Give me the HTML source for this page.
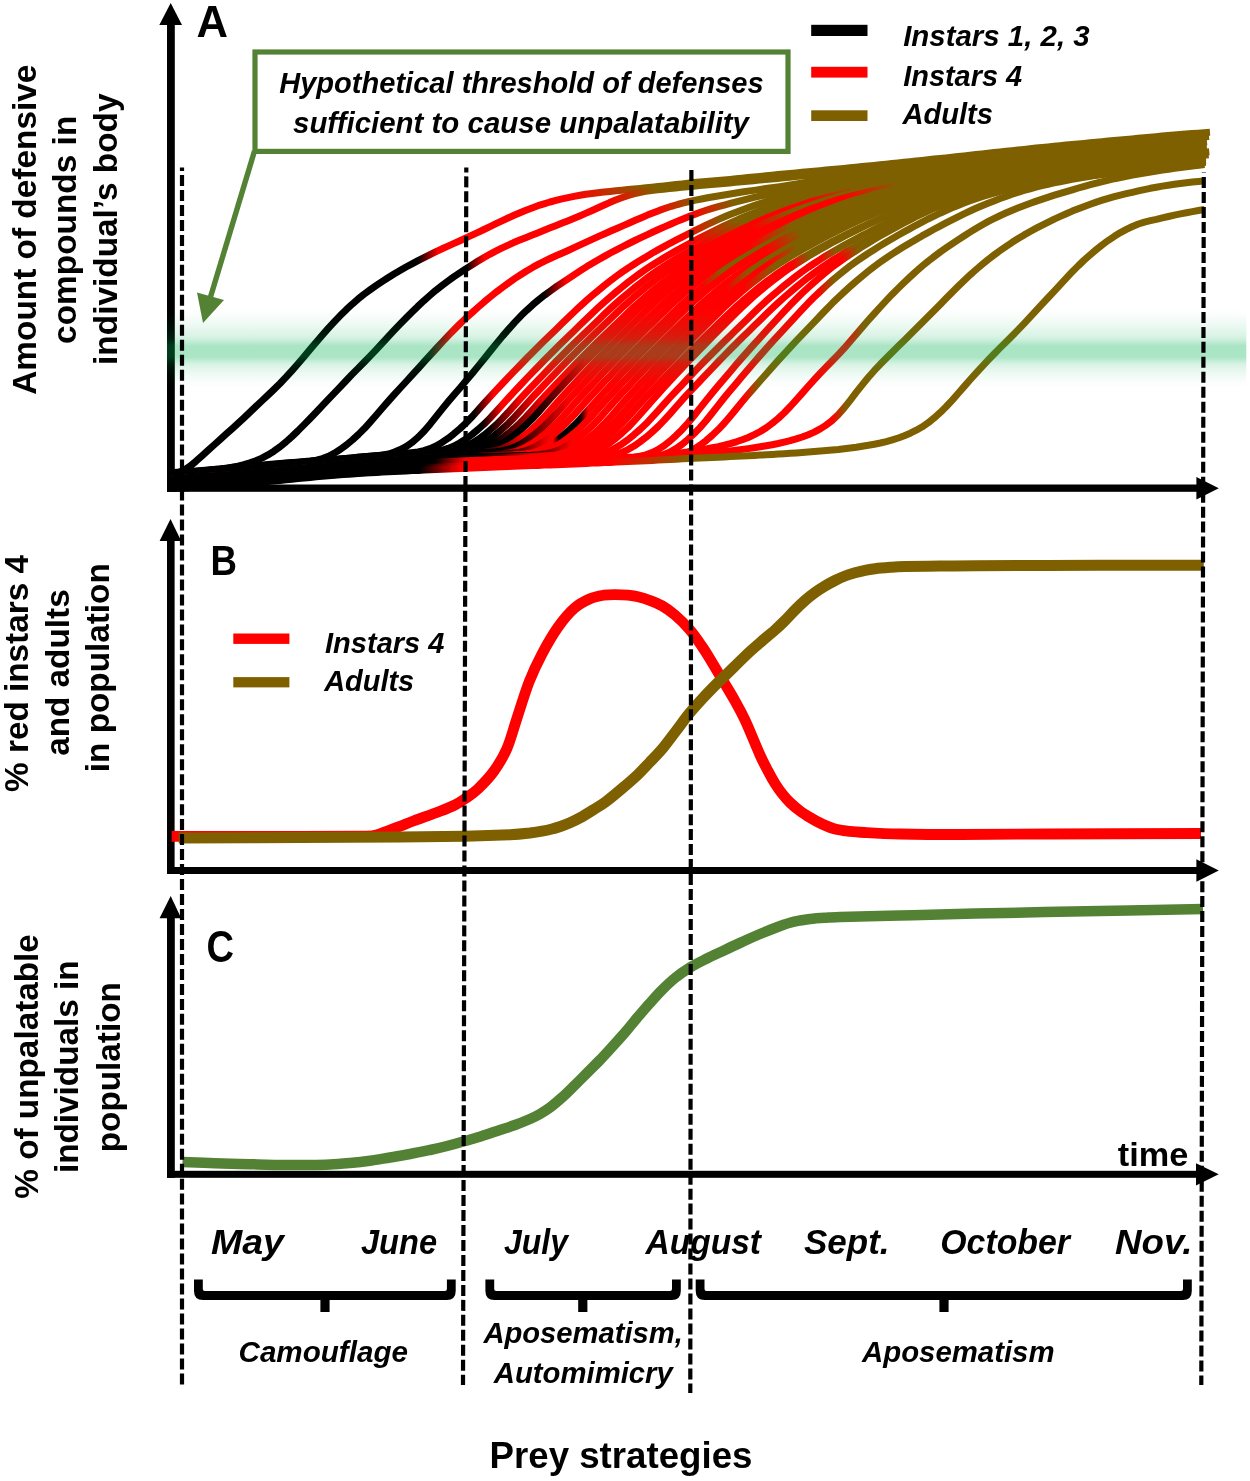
<!DOCTYPE html>
<html><head><meta charset="utf-8"><title>Figure</title>
<style>html,body{margin:0;padding:0;background:#fff}svg{display:block}text{font-family:"Liberation Sans",sans-serif}</style></head>
<body>
<svg width="1250" height="1481" viewBox="0 0 1250 1481">
<rect width="1250" height="1481" fill="#fff"/>
<defs><linearGradient id="g1" gradientUnits="userSpaceOnUse" x1="160" x2="1230"><stop offset="0.2411" stop-color="#000"/><stop offset="0.2598" stop-color="#FF0000"/><stop offset="0.385" stop-color="#FF0000"/><stop offset="0.4542" stop-color="#7F6000"/></linearGradient>
<linearGradient id="g2" gradientUnits="userSpaceOnUse" x1="160" x2="1230"><stop offset="0.286" stop-color="#000"/><stop offset="0.3028" stop-color="#FF0000"/><stop offset="0.4178" stop-color="#FF0000"/><stop offset="0.4626" stop-color="#7F6000"/></linearGradient>
<linearGradient id="g3" gradientUnits="userSpaceOnUse" x1="160" x2="1230"><stop offset="0.2505" stop-color="#000"/><stop offset="0.2729" stop-color="#FF0000"/><stop offset="0.4626" stop-color="#FF0000"/><stop offset="0.5009" stop-color="#7F6000"/></linearGradient>
<linearGradient id="g4" gradientUnits="userSpaceOnUse" x1="160" x2="1230"><stop offset="0.3589" stop-color="#000"/><stop offset="0.3794" stop-color="#FF0000"/><stop offset="0.4953" stop-color="#FF0000"/><stop offset="0.5364" stop-color="#7F6000"/></linearGradient>
<linearGradient id="g5" gradientUnits="userSpaceOnUse" x1="160" x2="1230"><stop offset="0.2935" stop-color="#000"/><stop offset="0.3121" stop-color="#FF0000"/><stop offset="0.4888" stop-color="#FF0000"/><stop offset="0.5262" stop-color="#7F6000"/></linearGradient>
<linearGradient id="g6" gradientUnits="userSpaceOnUse" x1="160" x2="1230"><stop offset="0.3009" stop-color="#000"/><stop offset="0.3196" stop-color="#FF0000"/><stop offset="0.4972" stop-color="#FF0000"/><stop offset="0.5383" stop-color="#7F6000"/></linearGradient>
<linearGradient id="g7" gradientUnits="userSpaceOnUse" x1="160" x2="1230"><stop offset="0.3075" stop-color="#000"/><stop offset="0.3374" stop-color="#FF0000"/><stop offset="0.5047" stop-color="#FF0000"/><stop offset="0.5458" stop-color="#7F6000"/></linearGradient>
<linearGradient id="g8" gradientUnits="userSpaceOnUse" x1="160" x2="1230"><stop offset="0.3131" stop-color="#000"/><stop offset="0.3505" stop-color="#FF0000"/><stop offset="0.6075" stop-color="#FF0000"/><stop offset="0.6542" stop-color="#7F6000"/></linearGradient>
<linearGradient id="g9" gradientUnits="userSpaceOnUse" x1="160" x2="1230"><stop offset="0.3131" stop-color="#000"/><stop offset="0.3598" stop-color="#FF0000"/><stop offset="0.5495" stop-color="#FF0000"/><stop offset="0.5869" stop-color="#7F6000"/></linearGradient>
<linearGradient id="g10" gradientUnits="userSpaceOnUse" x1="160" x2="1230"><stop offset="0.3493" stop-color="#000"/><stop offset="0.3978" stop-color="#FF0000"/><stop offset="0.556" stop-color="#FF0000"/><stop offset="0.5894" stop-color="#7F6000"/></linearGradient>
<linearGradient id="g11" gradientUnits="userSpaceOnUse" x1="160" x2="1230"><stop offset="0.2976" stop-color="#000"/><stop offset="0.3409" stop-color="#FF0000"/><stop offset="0.6374" stop-color="#FF0000"/><stop offset="0.6897" stop-color="#7F6000"/></linearGradient>
<linearGradient id="g12" gradientUnits="userSpaceOnUse" x1="160" x2="1230"><stop offset="0.3293" stop-color="#000"/><stop offset="0.3825" stop-color="#FF0000"/><stop offset="0.657" stop-color="#FF0000"/><stop offset="0.7037" stop-color="#7F6000"/></linearGradient>
<linearGradient id="g13" gradientUnits="userSpaceOnUse" x1="160" x2="1230"><stop offset="0.2909" stop-color="#000"/><stop offset="0.3392" stop-color="#FF0000"/><stop offset="0.5514" stop-color="#FF0000"/><stop offset="0.5896" stop-color="#7F6000"/></linearGradient>
<linearGradient id="g14" gradientUnits="userSpaceOnUse" x1="160" x2="1230"><stop offset="0.3218" stop-color="#000"/><stop offset="0.3642" stop-color="#FF0000"/><stop offset="0.5065" stop-color="#FF0000"/><stop offset="0.5252" stop-color="#7F6000"/></linearGradient>
<linearGradient id="g15" gradientUnits="userSpaceOnUse" x1="160" x2="1230"><stop offset="0." stop-color="#FF0000"/><stop offset="0.3673" stop-color="#FF0000"/><stop offset="0.3729" stop-color="#000"/><stop offset="0.3925" stop-color="#000"/><stop offset="0.4" stop-color="#FF0000"/><stop offset="0.5662" stop-color="#FF0000"/><stop offset="0.5961" stop-color="#7F6000"/></linearGradient>
<linearGradient id="g16" gradientUnits="userSpaceOnUse" x1="160" x2="1230"><stop offset="0.293" stop-color="#000"/><stop offset="0.3333" stop-color="#FF0000"/><stop offset="0.5702" stop-color="#FF0000"/><stop offset="0.6015" stop-color="#7F6000"/></linearGradient>
<linearGradient id="g17" gradientUnits="userSpaceOnUse" x1="160" x2="1230"><stop offset="0.3429" stop-color="#000"/><stop offset="0.3851" stop-color="#FF0000"/><stop offset="0.529" stop-color="#FF0000"/><stop offset="0.5514" stop-color="#7F6000"/></linearGradient>
<linearGradient id="g18" gradientUnits="userSpaceOnUse" x1="160" x2="1230"><stop offset="0.3019" stop-color="#000"/><stop offset="0.3375" stop-color="#FF0000"/><stop offset="0.5693" stop-color="#FF0000"/><stop offset="0.595" stop-color="#7F6000"/></linearGradient>
<linearGradient id="g19" gradientUnits="userSpaceOnUse" x1="160" x2="1230"><stop offset="0.2946" stop-color="#000"/><stop offset="0.3487" stop-color="#FF0000"/><stop offset="0.5447" stop-color="#FF0000"/><stop offset="0.575" stop-color="#7F6000"/></linearGradient>
<linearGradient id="g20" gradientUnits="userSpaceOnUse" x1="160" x2="1230"><stop offset="0.3021" stop-color="#000"/><stop offset="0.3639" stop-color="#FF0000"/><stop offset="0.5879" stop-color="#FF0000"/><stop offset="0.6028" stop-color="#7F6000"/></linearGradient>
<linearGradient id="g21" gradientUnits="userSpaceOnUse" x1="160" x2="1230"><stop offset="0.3061" stop-color="#000"/><stop offset="0.348" stop-color="#FF0000"/><stop offset="0.5916" stop-color="#FF0000"/><stop offset="0.6065" stop-color="#7F6000"/></linearGradient>
<linearGradient id="g22" gradientUnits="userSpaceOnUse" x1="160" x2="1230"><stop offset="0.257" stop-color="#000"/><stop offset="0.285" stop-color="#FF0000"/><stop offset="0.6168" stop-color="#FF0000"/><stop offset="0.6318" stop-color="#7F6000"/></linearGradient>
<linearGradient id="g23" gradientUnits="userSpaceOnUse" x1="160" x2="1230"><stop offset="0.257" stop-color="#000"/><stop offset="0.285" stop-color="#FF0000"/><stop offset="0.6336" stop-color="#FF0000"/><stop offset="0.6486" stop-color="#7F6000"/></linearGradient>
<linearGradient id="g24" gradientUnits="userSpaceOnUse" x1="160" x2="1230"><stop offset="0.257" stop-color="#000"/><stop offset="0.285" stop-color="#FF0000"/><stop offset="0.6374" stop-color="#FF0000"/><stop offset="0.6523" stop-color="#7F6000"/></linearGradient>
<linearGradient id="g25" gradientUnits="userSpaceOnUse" x1="160" x2="1230"><stop offset="0.257" stop-color="#000"/><stop offset="0.285" stop-color="#FF0000"/><stop offset="0.615" stop-color="#FF0000"/><stop offset="0.6299" stop-color="#7F6000"/></linearGradient>
<linearGradient id="g26" gradientUnits="userSpaceOnUse" x1="160" x2="1230"><stop offset="0.257" stop-color="#000"/><stop offset="0.285" stop-color="#FF0000"/><stop offset="0.5458" stop-color="#FF0000"/><stop offset="0.5589" stop-color="#7F6000"/></linearGradient>
<linearGradient id="g27" gradientUnits="userSpaceOnUse" x1="160" x2="1230"><stop offset="0." stop-color="#000"/><stop offset="0.2477" stop-color="#000"/><stop offset="0.2822" stop-color="#FF0000"/><stop offset="0.6421" stop-color="#FF0000"/><stop offset="0.6579" stop-color="#7F6000"/></linearGradient>
<linearGradient id="g28" gradientUnits="userSpaceOnUse" x1="160" x2="1230"><stop offset="0." stop-color="#000"/><stop offset="0.2477" stop-color="#000"/><stop offset="0.2822" stop-color="#FF0000"/><stop offset="0.628" stop-color="#FF0000"/><stop offset="0.6411" stop-color="#7F6000"/></linearGradient>
<linearGradient id="g29" gradientUnits="userSpaceOnUse" x1="160" x2="1230"><stop offset="0." stop-color="#000"/><stop offset="0.243" stop-color="#000"/><stop offset="0.2804" stop-color="#FF0000"/><stop offset="0.4206" stop-color="#FF0000"/><stop offset="0.4953" stop-color="#7F6000"/></linearGradient>
<linearGradient id="bandg" x1="0" y1="0" x2="0" y2="1"><stop offset="0.0000" stop-color="#00B050" stop-opacity="0.000"/><stop offset="0.0750" stop-color="#00B050" stop-opacity="0.015"/><stop offset="0.1500" stop-color="#00B050" stop-opacity="0.045"/><stop offset="0.2500" stop-color="#00B050" stop-opacity="0.090"/><stop offset="0.3375" stop-color="#00B050" stop-opacity="0.140"/><stop offset="0.3875" stop-color="#00B050" stop-opacity="0.185"/><stop offset="0.4250" stop-color="#00B050" stop-opacity="0.250"/><stop offset="0.4688" stop-color="#00B050" stop-opacity="0.325"/><stop offset="0.4875" stop-color="#00B050" stop-opacity="0.335"/><stop offset="0.6000" stop-color="#00B050" stop-opacity="0.335"/><stop offset="0.6250" stop-color="#00B050" stop-opacity="0.310"/><stop offset="0.6625" stop-color="#00B050" stop-opacity="0.230"/><stop offset="0.7000" stop-color="#00B050" stop-opacity="0.160"/><stop offset="0.7625" stop-color="#00B050" stop-opacity="0.105"/><stop offset="0.8375" stop-color="#00B050" stop-opacity="0.060"/><stop offset="0.9125" stop-color="#00B050" stop-opacity="0.025"/><stop offset="1.0000" stop-color="#00B050" stop-opacity="0.000"/></linearGradient></defs>
<g fill="#000" stroke="none"><rect x="167" y="20" width="7.8" height="471.8"/><polygon points="170.7,3 159.3,25 182,25"/><rect x="167" y="484.5" width="1032" height="7.3"/><polygon points="1196.4,477 1218.8,488.2 1196.4,499.4"/><rect x="167" y="538" width="7.6" height="336"/><polygon points="170.5,519 159.6,541 181.2,541"/><rect x="167" y="867" width="1032" height="7"/><polygon points="1196.4,859.3 1218.8,870.5 1196.4,881.7"/><rect x="167" y="915" width="7.8" height="262.8"/><polygon points="170.7,896 159.6,918.3 181.2,918.3"/><rect x="167" y="1170.8" width="1032" height="7"/><polygon points="1196,1163.2 1218.7,1174.3 1196,1185.4"/></g>
<rect x="255" y="52" width="533" height="99.4" fill="#fff" stroke="#548235" stroke-width="5.2"/><line x1="254.5" y1="151" x2="210.5" y2="297" stroke="#548235" stroke-width="5.4"/><polygon points="203,323 197,292.4 224,300" fill="#548235"/>
<g fill="none" stroke-width="7" stroke-linejoin="round"><path d="M172,474.1l6-1.3l6-2.6l6-4l6-5l6-5.4l6-5.4l6-5.4l6-5.4l6-5.4l6-5.4l6-5.5l6-5.5l6-5.7l6-5.7l6-5.6l6-5.7l6-5.7l6-5.9l6-6.3l6-6.6l6-6.8l6-7.1l6-7.1l6-7.1l6-7.1l6-6.8l6-6.5l6-6.3l6-5.9l6-5.6l6-5.2l6-4.8l6-4.4l6-4.2l6-4.1l6-3.9l6-3.7l6-3.5l6-3.5l6-3.2l6-3.2l6-3l6-3l6-2.9l6-2.9l6-2.7l6-2.7l6-2.7l6-2.8l6-2.8l6-2.8l6-2.8l6-2.9l6-2.9l6-2.9l6-2.8l6-2.7l6-2.6l6-2.5l6-2.3l6-2.2l6-1.9l6-1.8l6-1.6l6-1.5l6-1.3l6-1.2l6-1.1l6-1l6-0.8l6-0.8l6-0.7l6-0.6l6-0.6l6-0.6l6-0.6l6-0.6l6-0.6l6-0.6l6-0.6l6-0.6l6-0.7l6-0.7l6-0.7l6-0.6l6-0.7l6-0.6l6-0.5l6-0.6l6-0.5l6-0.6l6-0.5l6-0.5l6-0.6l6-0.6l6-0.6l6-0.6l6-0.6l6-0.6l6-0.6l6-0.6l6-0.6l6-0.5l6-0.6l6-0.6l6-0.5l6-0.6l6-0.5l6-0.6l6-0.5l6-0.6l6-0.6l6-0.6l6-0.6l6-0.6l6-0.6l6-0.6l6-0.6l6-0.6l6-0.7l6-0.6l6-0.6l6-0.6l6-0.7l6-0.6l6-0.6l6-0.7l6-0.6l6-0.6l6-0.7l6-0.6l6-0.7l6-0.6l6-0.7l6-0.6l6-0.7l6-0.7l6-0.6l6-0.7l6-0.6l6-0.7l6-0.6l6-0.6l6-0.7l6-0.6l6-0.6l6-0.6l6-0.6l6-0.6l6-0.6l6-0.5l6-0.6l6-0.6l6-0.6l6-0.5l6-0.6l6-0.5l6-0.6l6-0.6l6-0.5l6-0.6l6-0.5l6-0.6l6-0.5l6-0.6l6-0.5l6-0.5l6-0.5l6-0.5l6-0.5l6-0.4l6-0.5l6-0.4" stroke="url(#g1)"/><path d="M172,473.6l6-0.4l6-0.5l6-0.5l6-0.6l6-0.6l6-0.7l6-0.7l6-0.6l5.9-0.8l6-0.9l6-1.1l6-1.5l6-1.8l6-2.2l6-2.6l6-3.2l6-3.7l6-4.3l6-4.9l6-5.4l6-5.7l6-6l6-6.2l6-6.2l6-6.4l5.9-6.3l6-6.2l6-6.3l6-6.3l6-6.3l6-6.1l6-6.1l6-6.1l6-6.3l6-6.5l6-6.5l6-6.4l6-6.3l6-6.1l6-6l6-5.9l6-5.6l6-5.3l5.9-5.1l6-4.7l6-4.5l6-4.3l6-4l6-4l6-3.8l6-3.8l6-3.6l6-3.4l6-3.2l6-3l6-2.8l6-2.7l6-2.5l6-2.4l6-2.4l5.9-2.4l6-2.4l6-2.4l6-2.4l6-2.4l6-2.4l6-2.4l6-2.5l6-2.6l6-2.7l6-2.7l6-2.7l6-2.7l6-2.5l6-2.3l6-2.1l6-1.8l5.9-1.4l6-1.1l6-0.9l6-0.7l6-0.6l6-0.7l6-0.6l6-0.6l6-0.5l6-0.6l6-0.6l6-0.6l6-0.5l6-0.5l6-0.6l6-0.5l6-0.6l6-0.5l5.9-0.6l6-0.5l6-0.6l6-0.6l6-0.5l6-0.6l6-0.6l6-0.6l6-0.6l6-0.5l6-0.6l6-0.6l6-0.6l6-0.6l6-0.6l6-0.5l6-0.6l5.9-0.6l6-0.6l6-0.6l6-0.5l6-0.6l6-0.6l6-0.6l6-0.6l6-0.6l6-0.5l6-0.6l6-0.6l6-0.6l6-0.6l6-0.5l6-0.6l6-0.6l5.9-0.6l6-0.6l6-0.5l6-0.6l6-0.6l6-0.6l6-0.6l6-0.6l6-0.5l6-0.6l6-0.6l6-0.6l6-0.6l6-0.5l6-0.6l6-0.6l6-0.6l6-0.6l5.9-0.5l6-0.6l6-0.6l6-0.6l6-0.6l6-0.6l6-0.5l6-0.6l6-0.6l6-0.6l6-0.6l6-0.5l6-0.6l6-0.6l6-0.6l6-0.6l6-0.6l5.9-0.5l6-0.6l6-0.6l6-0.6l6-0.6l6-0.5l6-0.6l6-0.6l6-0.6" stroke="url(#g2)"/><path d="M172,473.1l6-0.4l6-0.4l6.1-0.4l6-0.5l6-0.5l6-0.5l6-0.5l6-0.5l6.1-0.6l6-0.5l6-0.6l6-0.6l6-0.5l6-0.6l6.1-0.5l6-0.6l6-0.5l6-0.6l6-0.5l6-0.6l6.1-0.5l6-0.6l6-0.6l6-0.9l6-1.5l6.1-2.3l6-3.2l6-3.8l6-4.4l6-5l6-5.5l6.1-6.1l6-6.6l6-6.9l6-7l6-6.9l6-6.7l6.1-6.7l6-6.5l6-6.6l6-6.6l6-6.6l6-6.6l6.1-6.6l6-6.5l6-6.4l6-6.1l6-6l6.1-5.7l6-5.5l6-5.3l6-5.2l6-4.9l6-4.8l6.1-4.6l6-4.4l6-4.2l6-3.9l6-3.8l6-3.5l6.1-3.3l6-3l6-2.9l6-2.7l6-2.6l6.1-2.7l6-2.8l6-2.8l6-2.8l6-2.7l6-2.8l6.1-2.6l6-2.7l6-2.6l6-2.6l6-2.6l6-2.7l6.1-2.6l6-2.6l6-2.4l6-2.3l6-2.1l6-2l6.1-1.8l6-1.6l6-1.4l6-1.3l6-1.2l6.1-1.2l6-1.1l6-1l6-1l6-1l6-0.9l6.1-1l6-0.9l6-0.8l6-0.9l6-0.9l6-0.8l6.1-0.9l6-0.9l6-1l6-0.9l6-1l6-1l6.1-1l6-0.9l6-0.9l6-0.8l6-0.8l6.1-0.7l6-0.7l6-0.6l6-0.6l6-0.6l6-0.5l6.1-0.6l6-0.5l6-0.6l6-0.5l6-0.6l6-0.6l6.1-0.6l6-0.6l6-0.5l6-0.6l6-0.6l6-0.6l6.1-0.6l6-0.6l6-0.5l6-0.6l6-0.6l6.1-0.6l6-0.6l6-0.6l6-0.5l6-0.6l6-0.6l6.1-0.6l6-0.6l6-0.6l6-0.5l6-0.6l6-0.6l6.1-0.6l6-0.6l6-0.6l6-0.5l6-0.6l6.1-0.6l6-0.6l6-0.6l6-0.6l6-0.6l6-0.5l6.1-0.6l6-0.6l6-0.6l6-0.6l6-0.6l6-0.5l6.1-0.6l6-0.6l6-0.6l6-0.6l6-0.6l6-0.5l6.1-0.6l6-0.6l6-0.6" stroke="url(#g3)"/><path d="M172,472.6l6-0.4l6-0.4l6-0.4l6-0.4l6.1-0.5l6-0.5l6-0.5l6-0.5l6-0.6l6-0.5l6-0.5l6-0.6l6.1-0.5l6-0.6l6-0.5l6-0.6l6-0.5l6-0.5l6-0.5l6-0.5l6-0.4l6.1-0.5l6-0.4l6-0.4l6-0.4l6-0.3l6-0.4l6-0.4l6-0.4l6-0.4l6.1-0.5l6-0.5l6-0.6l6-0.7l6-1l6-1.3l6-1.9l6-2.5l6.1-3.3l6-4.2l6-5.2l6-6.2l6-7l6-7.6l6-7.5l6-7.3l6-7.1l6.1-7l6-7.1l6-7.2l6-7.3l6-7.3l6-7.5l6-7.4l6-7.3l6.1-7l6-6.7l6-6.3l6-5.8l6-5.5l6-5l6-4.7l6-4.4l6-4.3l6.1-4.1l6-4l6-4l6-3.9l6-3.8l6-3.6l6-3.5l6-3.4l6-3.3l6.1-3.2l6-3.1l6-3l6-3l6-2.9l6-2.8l6-2.8l6-2.7l6.1-2.7l6-2.6l6-2.6l6-2.5l6-2.4l6-2.3l6-2.2l6-2l6-1.9l6.1-1.7l6-1.6l6-1.6l6-1.6l6-1.5l6-1.5l6-1.4l6-1.4l6.1-1.2l6-1.2l6-1.1l6-1l6-1l6-1.1l6-1.1l6-1l6-1.1l6.1-1.1l6-1.1l6-1l6-0.9l6-0.9l6-0.7l6-0.8l6-0.6l6-0.6l6.1-0.6l6-0.6l6-0.5l6-0.6l6-0.5l6-0.6l6-0.5l6-0.6l6.1-0.6l6-0.6l6-0.6l6-0.5l6-0.6l6-0.6l6-0.6l6-0.6l6-0.6l6.1-0.5l6-0.6l6-0.6l6-0.6l6-0.6l6-0.6l6-0.5l6-0.6l6.1-0.6l6-0.6l6-0.6l6-0.5l6-0.6l6-0.6l6-0.6l6-0.6l6-0.6l6.1-0.5l6-0.6l6-0.6l6-0.6l6-0.6l6-0.6l6-0.5l6-0.6l6-0.6l6.1-0.6l6-0.6l6-0.6l6-0.5l6-0.6l6-0.6l6-0.6l6-0.6l6.1-0.6l6-0.5l6-0.6l6-0.6l6-0.6" stroke="url(#g4)"/><path d="M172,473.8l6-0.5l6-0.4l6-0.5l6-0.4l6-0.4l6-0.5l6-0.4l6-0.4l6-0.5l6-0.4l6-0.5l6-0.4l6-0.5l6-0.5l6-0.5l6-0.5l6-0.5l6-0.6l6-0.6l6-0.7l6-0.6l6-0.6l6-0.7l6-0.6l6-0.6l6-0.6l6-0.6l6-0.7l6-0.6l6-0.6l6-0.6l6-0.5l6-0.5l6-0.5l6-0.5l6-0.5l6-0.4l6-0.4l6-0.5l6-0.7l6-0.9l6-1.3l6-2l6-2.7l6-3.5l6-4l6-4.7l6-5.1l6-5.6l6-6.2l6-6.6l6-6.8l6-6.6l6-6.4l6-6.4l6-6.3l6-6.3l6-6.2l6-6.2l6-6l6-6l6-5.9l6-5.9l6-5.8l6-5.8l6-5.8l6-5.8l6-5.7l6-5.4l6-5.2l6-5l6-4.9l6-4.7l6-4.6l6-4.3l6-4.1l6-3.9l6-3.8l6-3.5l6-3.6l6-3.4l6-3.3l6-3.3l6-3.1l6-3.1l6-3.1l6-3l6-2.9l6-2.9l6-2.8l6-2.8l6-2.6l6-2.5l6-2.3l6-2.3l6-2.2l6-2.1l6-2l6-1.9l6-1.8l6-1.7l6-1.6l6-1.5l6-1.4l6-1.3l6-1.2l6-1.2l6-1.1l6-1.1l6-1.1l6-1l6-0.9l6-1l6-0.9l6-0.9l6-0.8l6-0.8l6-0.8l6-0.7l6-0.8l6-0.7l6-0.7l6-0.7l6-0.7l6-0.7l6-0.7l6-0.6l6-0.7l6-0.6l6-0.7l6-0.6l6-0.6l6-0.7l6-0.6l6-0.6l6-0.6l6-0.7l6-0.6l6-0.6l6-0.6l6-0.6l6-0.5l6-0.6l6-0.6l6-0.6l6-0.6l6-0.6l6-0.5l6-0.6l6-0.6l6-0.6l6-0.6l6-0.5l6-0.6l6-0.6l6-0.6l6-0.6l6-0.6l6-0.5l6-0.6l6-0.6l6-0.6l6-0.6l6-0.5l6-0.6l6-0.6l6-0.6l6-0.6l6-0.6l6-0.5l6-0.6l6-0.6l0-0" stroke="url(#g5)"/><path d="M172,473.8l6-0.5l6-0.4l6-0.5l6-0.4l6-0.4l6-0.5l6-0.4l6-0.4l6-0.5l6-0.4l6-0.5l6-0.4l6-0.5l6-0.5l6-0.5l6-0.5l6-0.5l6-0.6l6-0.6l6-0.7l6-0.6l6-0.6l6-0.7l6-0.6l6-0.6l6-0.6l6-0.6l6-0.7l6-0.6l6-0.6l6-0.6l6-0.5l6-0.5l6-0.5l6-0.5l6-0.5l6-0.4l6-0.4l6-0.5l6-0.4l6-0.4l6-0.3l6-0.4l6-0.7l6-1l6-1.9l6-2.3l6-3.3l6-3.8l6-4.5l6-5l6-5.3l6-6.1l6-6.4l6-6.7l6-6.7l6-6.5l6-6.3l6-6.3l6-6.3l6-6.2l6-6.2l6-6l6-6l6-5.9l6-5.9l6-5.8l6-5.8l6-5.8l6-5.8l6-5.7l6-5.5l6-5.2l6-5.1l6-4.9l6-4.8l6-4.5l6-4.4l6-4.2l6-4l6-3.8l6-3.6l6-3.5l6-3.4l6-3.4l6-3.3l6-3.2l6-3.1l6-3l6-3l6-3l6-2.9l6-2.8l6-2.8l6-2.6l6-2.5l6-2.4l6-2.3l6-2.2l6-2.2l6-2l6-2l6-1.8l6-1.6l6-1.6l6-1.6l6-1.4l6-1.4l6-1.2l6-1.2l6-1.1l6-1.1l6-1.1l6-1l6-1l6-0.9l6-1l6-0.9l6-0.8l6-0.8l6-0.8l6-0.7l6-0.8l6-0.7l6-0.7l6-0.7l6-0.7l6-0.7l6-0.7l6-0.7l6-0.6l6-0.7l6-0.6l6-0.6l6-0.7l6-0.6l6-0.6l6-0.7l6-0.6l6-0.6l6-0.6l6-0.6l6-0.6l6-0.6l6-0.6l6-0.6l6-0.6l6-0.5l6-0.6l6-0.6l6-0.6l6-0.6l6-0.5l6-0.6l6-0.6l6-0.6l6-0.6l6-0.6l6-0.5l6-0.6l6-0.6l6-0.6l6-0.6l6-0.5l6-0.6l6-0.6l6-0.6l6-0.6l6-0.6l6-0.5l6-0.6l6-0.6l3-0.3" stroke="url(#g6)"/><path d="M172,474.3l6-0.5l6-0.5l6-0.4l6-0.5l6-0.4l6-0.4l6-0.5l6-0.4l6-0.4l6-0.5l6-0.4l6-0.5l6-0.4l6-0.5l6-0.5l6-0.5l6-0.6l6-0.6l6-0.6l6-0.6l6-0.7l6-0.6l6-0.6l6-0.6l6-0.7l6-0.5l6-0.7l6-0.7l6-0.6l6-0.5l6-0.6l6-0.5l6-0.5l6-0.5l6-0.5l6-0.5l6-0.4l6-0.5l6-0.4l6-0.4l6-0.4l6-0.3l6-0.3l6-0.2l6-0.4l6-0.7l6-0.9l6-1.7l6-2.3l6-3.2l6-3.7l6-4.4l6-5l6-5.2l6-6l6-6.4l6-6.7l6-6.6l6-6.5l6-6.3l6-6.3l6-6.2l6-6.3l6-6.1l6-6l6-6l6-5.9l6-5.9l6-5.8l6-5.7l6-5.8l6-5.8l6-5.7l6-5.5l6-5.3l6-5l6-5l6-4.7l6-4.6l6-4.4l6-4.2l6-4l6-3.8l6-3.6l6-3.5l6-3.5l6-3.3l6-3.3l6-3.2l6-3.1l6-3.1l6-3l6-2.9l6-2.9l6-2.9l6-2.7l6-2.7l6-2.5l6-2.4l6-2.3l6-2.2l6-2.1l6-2.1l6-1.9l6-1.8l6-1.7l6-1.6l6-1.6l6-1.4l6-1.4l6-1.2l6-1.2l6-1.2l6-1.1l6-1l6-1l6-1l6-1l6-0.9l6-0.9l6-0.9l6-0.8l6-0.7l6-0.8l6-0.7l6-0.8l6-0.7l6-0.7l6-0.7l6-0.7l6-0.7l6-0.6l6-0.7l6-0.6l6-0.7l6-0.6l6-0.6l6-0.7l6-0.6l6-0.6l6-0.6l6-0.7l6-0.6l6-0.6l6-0.6l6-0.6l6-0.6l6-0.5l6-0.6l6-0.6l6-0.6l6-0.6l6-0.5l6-0.6l6-0.6l6-0.6l6-0.6l6-0.6l6-0.5l6-0.6l6-0.6l6-0.6l6-0.6l6-0.5l6-0.6l6-0.6l6-0.6l6-0.6l6-0.6l6-0.5l6-0.6l6-0.6l1-0.1" stroke="url(#g7)"/><path d="M172,474.7l6-0.5l6-0.4l6-0.5l6-0.4l6-0.5l6-0.4l6-0.4l6-0.5l6-0.4l6-0.4l6-0.5l6-0.4l6-0.5l6-0.5l6-0.5l6-0.5l6-0.6l6-0.5l6-0.7l6-0.6l6-0.6l6-0.6l6-0.7l6-0.6l6-0.6l6-0.6l6-0.6l6-0.7l6-0.6l6-0.6l6-0.5l6-0.6l6-0.5l6-0.5l6-0.4l6-0.5l6-0.4l6-0.5l6-0.4l6-0.4l6-0.4l6-0.3l6-0.3l6-0.2l6-0.2l6-0.3l6-0.4l6-0.7l6-1.1l6-1.9l6-2.4l6-3.4l6-3.8l6-4.5l6-5l6-5.4l6-6.1l6-6.5l6-6.7l6-6.6l6-6.4l6-6.3l6-6.3l6-6.3l6-6.2l6-6.1l6-6l6-6l6-5.9l6-5.8l6-5.8l6-5.8l6-5.8l6-5.8l6-5.7l6-5.4l6-5.2l6-5.1l6-4.9l6-4.7l6-4.6l6-4.3l6-4.2l6-3.9l6-3.8l6-3.6l6-3.5l6-3.4l6-3.4l6-3.2l6-3.2l6-3.1l6-3l6-3l6-3l6-2.9l6-2.8l6-2.7l6-2.7l6-2.4l6-2.4l6-2.3l6-2.2l6-2.1l6-2l6-2l6-1.8l6-1.6l6-1.6l6-1.5l6-1.4l6-1.4l6-1.2l6-1.2l6-1.2l6-1l6-1.1l6-1l6-1l6-0.9l6-0.9l6-0.9l6-0.9l6-0.8l6-0.7l6-0.8l6-0.7l6-0.8l6-0.7l6-0.7l6-0.7l6-0.7l6-0.6l6-0.7l6-0.6l6-0.7l6-0.6l6-0.7l6-0.6l6-0.6l6-0.7l6-0.6l6-0.6l6-0.6l6-0.6l6-0.6l6-0.6l6-0.6l6-0.6l6-0.6l6-0.6l6-0.6l6-0.5l6-0.6l6-0.6l6-0.6l6-0.6l6-0.6l6-0.5l6-0.6l6-0.6l6-0.6l6-0.6l6-0.5l6-0.6l6-0.6l6-0.6l6-0.6l6-0.6l6-0.5l6-0.6l6-0.6l3.1-0.3" stroke="url(#g8)"/><path d="M172,475.1l6-0.4l6-0.5l6-0.4l6-0.5l6-0.4l6-0.5l6-0.4l6-0.4l6-0.5l6-0.4l6-0.4l6-0.5l6-0.5l6-0.4l6-0.5l6-0.6l6-0.5l6-0.6l6-0.6l6-0.6l6-0.7l6-0.6l6-0.6l6-0.7l6-0.6l6-0.6l6-0.6l6-0.7l6-0.6l6-0.5l6-0.6l6-0.5l6-0.5l6-0.5l6-0.5l6-0.4l6-0.5l6-0.4l6-0.4l6-0.4l6-0.4l6-0.3l6-0.3l6-0.2l6-0.2l6-0.3l6-0.2l6-0.3l6-0.4l6-0.8l6-1.1l6-2l6-2.6l6-3.4l6-3.9l6-4.6l6-5.1l6-5.5l6-6.1l6-6.5l6-6.7l6-6.7l6-6.3l6-6.3l6-6.3l6-6.3l6-6.2l6-6.1l6-6l6-6l6-5.9l6-5.8l6-5.8l6-5.8l6-5.8l6-5.8l6-5.7l6-5.4l6-5.2l6-5l6-4.9l6-4.7l6-4.5l6-4.4l6-4.1l6-3.9l6-3.7l6-3.6l6-3.5l6-3.5l6-3.3l6-3.3l6-3.1l6-3.1l6-3l6-3l6-3l6-2.9l6-2.8l6-2.7l6-2.6l6-2.5l6-2.3l6-2.3l6-2.2l6-2.1l6-2l6-1.9l6-1.8l6-1.6l6-1.6l6-1.5l6-1.4l6-1.4l6-1.2l6-1.2l6-1.1l6-1.1l6-1l6-1l6-1l6-0.9l6-1l6-0.8l6-0.9l6-0.7l6-0.8l6-0.8l6-0.7l6-0.7l6-0.8l6-0.7l6-0.7l6-0.6l6-0.7l6-0.7l6-0.6l6-0.7l6-0.6l6-0.6l6-0.7l6-0.6l6-0.6l6-0.7l6-0.6l6-0.6l6-0.6l6-0.6l6-0.6l6-0.6l6-0.6l6-0.6l6-0.5l6-0.6l6-0.6l6-0.6l6-0.6l6-0.6l6-0.5l6-0.6l6-0.6l6-0.6l6-0.6l6-0.5l6-0.6l6-0.6l6-0.6l6-0.6l6-0.6l6-0.5l6-0.6l6-0.6l1.7-0.2" stroke="url(#g9)"/><path d="M172,475.5l6-0.5l6-0.5l6-0.4l6-0.5l6-0.4l6-0.4l6-0.5l6-0.4l6-0.4l6-0.5l6-0.4l6-0.5l6-0.4l6-0.5l6-0.5l6-0.5l6-0.6l6-0.6l6-0.6l6-0.6l6-0.6l6-0.7l6-0.6l6-0.6l6-0.6l6-0.6l6-0.7l6-0.6l6-0.6l6-0.6l6-0.5l6-0.6l6-0.5l6-0.4l6-0.5l6-0.5l6-0.4l6-0.4l6-0.4l6-0.4l6-0.4l6-0.3l6-0.3l6-0.2l6-0.3l6-0.2l6-0.2l6-0.3l6-0.2l6-0.4l6-0.6l6-0.9l6-1.7l6-2.3l6-3.2l6-3.8l6-4.4l6-4.9l6-5.4l6-5.9l6-6.5l6-6.8l6-6.8l6-6.5l6-6.4l6-6.4l6-6.3l6-6.3l6-6.2l6-6.2l6-6l6-6l6-6l6-5.8l6-5.9l6-5.9l6-5.9l6-5.7l6-5.6l6-5.4l6-5.1l6-5l6-4.8l6-4.7l6-4.5l6-4.2l6-4.1l6-3.8l6-3.7l6-3.6l6-3.5l6-3.4l6-3.3l6-3.3l6-3.1l6-3.1l6-3l6-3l6-2.9l6-2.9l6-2.8l6-2.7l6-2.5l6-2.4l6-2.3l6-2.3l6-2.2l6-2l6-2l6-1.8l6-1.7l6-1.7l6-1.5l6-1.5l6-1.3l6-1.3l6-1.2l6-1.2l6-1.1l6-1l6-1.1l6-0.9l6-1l6-1l6-0.9l6-0.8l6-0.8l6-0.8l6-0.7l6-0.8l6-0.7l6-0.8l6-0.7l6-0.7l6-0.7l6-0.6l6-0.7l6-0.7l6-0.6l6-0.6l6-0.7l6-0.6l6-0.7l6-0.6l6-0.6l6-0.6l6-0.7l6-0.6l6-0.6l6-0.6l6-0.6l6-0.6l6-0.5l6-0.6l6-0.6l6-0.6l6-0.6l6-0.5l6-0.6l6-0.6l6-0.6l6-0.6l6-0.6l6-0.5l6-0.6l6-0.6l6-0.6l6-0.6l6-0.5l6-0.6l6-0.6l6-0.6l2.2-0.2" stroke="url(#g10)"/><path d="M172,475.7l6-0.5l6-0.4l6-0.5l6-0.4l6-0.5l6-0.4l6-0.4l6-0.5l6-0.4l6-0.4l6-0.5l6-0.4l6-0.5l6-0.5l6-0.5l6-0.5l6-0.6l6-0.5l6-0.7l6-0.6l6-0.6l6-0.6l6-0.7l6-0.6l6-0.6l6-0.6l6-0.6l6-0.7l6-0.6l6-0.6l6-0.5l6-0.5l6-0.5l6-0.5l6-0.5l6-0.4l6-0.4l6-0.5l6-0.4l6-0.4l6-0.4l6-0.3l6-0.2l6-0.3l6-0.2l6-0.2l6-0.3l6-0.2l6-0.2l6-0.3l6-0.2l6-0.4l6-0.7l6-1l6-1.8l6-2.5l6-3.3l6-4l6-4.5l6-5.1l6-5.6l6-6.2l6-6.6l6-6.9l6-6.8l6-6.5l6-6.4l6-6.4l6-6.4l6-6.4l6-6.2l6-6.2l6-6l6-6.1l6-5.9l6-6l6-5.9l6-5.9l6-5.9l6-5.8l6-5.5l6-5.3l6-5.1l6-4.9l6-4.8l6-4.6l6-4.4l6-4.1l6-4l6-3.7l6-3.6l6-3.6l6-3.5l6-3.3l6-3.3l6-3.2l6-3.1l6-3.1l6-3l6-3l6-2.9l6-2.8l6-2.7l6-2.6l6-2.4l6-2.4l6-2.2l6-2.2l6-2.1l6-2l6-1.9l6-1.7l6-1.6l6-1.6l6-1.4l6-1.4l6-1.3l6-1.2l6-1.2l6-1.1l6-1l6-1l6-1l6-1l6-0.9l6-0.9l6-0.9l6-0.8l6-0.7l6-0.8l6-0.7l6-0.8l6-0.7l6-0.7l6-0.7l6-0.7l6-0.7l6-0.6l6-0.7l6-0.6l6-0.7l6-0.6l6-0.6l6-0.7l6-0.6l6-0.6l6-0.6l6-0.7l6-0.6l6-0.6l6-0.6l6-0.6l6-0.5l6-0.6l6-0.6l6-0.6l6-0.6l6-0.6l6-0.5l6-0.6l6-0.6l6-0.6l6-0.6l6-0.5l6-0.6l6-0.6l6-0.6l6-0.6l6-0.6l6-0.5l6-0.6l6-0.6l5.3-0.5" stroke="url(#g11)"/><path d="M172,476l6-0.4l6-0.5l6-0.4l6-0.5l6-0.4l6-0.5l6-0.4l6-0.4l6-0.5l6-0.4l6-0.4l6-0.5l6-0.5l6-0.4l6-0.5l6-0.6l6-0.5l6-0.6l6-0.6l6-0.6l6-0.7l6-0.6l6-0.6l6-0.7l6-0.6l6-0.6l6-0.6l6-0.6l6-0.6l6-0.6l6-0.5l6-0.6l6-0.4l6-0.5l6-0.5l6-0.4l6-0.5l6-0.4l6-0.4l6-0.4l6-0.4l6-0.3l6-0.2l6-0.3l6-0.2l6-0.3l6-0.2l6-0.2l6-0.2l6-0.3l6-0.2l6-0.2l6-0.3l6-0.6l6-0.8l6-1.4l6-2.2l6-2.9l6-3.7l6-4.3l6-4.8l6-5.3l6-5.9l6-6.4l6-6.7l6-6.8l6-6.6l6-6.4l6-6.4l6-6.4l6-6.3l6-6.3l6-6.1l6-6.1l6-6l6-5.9l6-5.9l6-5.9l6-5.9l6-5.9l6-5.8l6-5.6l6-5.3l6-5.1l6-5l6-4.9l6-4.6l6-4.5l6-4.2l6-4l6-3.8l6-3.7l6-3.5l6-3.5l6-3.4l6-3.3l6-3.2l6-3.2l6-3l6-3l6-3l6-2.9l6-2.9l6-2.7l6-2.6l6-2.5l6-2.4l6-2.3l6-2.2l6-2.1l6-2.1l6-1.9l6-1.7l6-1.7l6-1.6l6-1.5l6-1.4l6-1.3l6-1.2l6-1.2l6-1.1l6-1.1l6-1l6-1l6-1l6-1l6-0.9l6-0.9l6-0.8l6-0.7l6-0.8l6-0.8l6-0.7l6-0.7l6-0.7l6-0.7l6-0.7l6-0.7l6-0.7l6-0.6l6-0.7l6-0.6l6-0.7l6-0.6l6-0.6l6-0.7l6-0.6l6-0.6l6-0.6l6-0.7l6-0.6l6-0.6l6-0.5l6-0.6l6-0.6l6-0.6l6-0.6l6-0.6l6-0.5l6-0.6l6-0.6l6-0.6l6-0.6l6-0.6l6-0.5l6-0.6l6-0.6l6-0.6l6-0.6l6-0.5l6-0.6l6-0.6l2.4-0.2" stroke="url(#g12)"/><path d="M172,477.9l6-0.4l6-0.5l6-0.4l6-0.5l6-0.4l6-0.4l6-0.5l6-0.4l6-0.4l6-0.5l6-0.4l6-0.5l6-0.4l6-0.5l6-0.5l6-0.6l6-0.5l6-0.6l6-0.6l6-0.6l6-0.7l6-0.6l6-0.6l6-0.7l6-0.6l6-0.5l6-0.7l6-0.6l6-0.6l6-0.5l6-0.5l6-0.5l6-0.5l6-0.5l6-0.4l6-0.5l6-0.4l6-0.4l6-0.4l6-0.3l6-0.4l6-0.3l6-0.3l6-0.2l6-0.2l6-0.3l6-0.2l6-0.2l6-0.3l6-0.2l6-0.2l6-0.3l6-0.2l6-0.2l6-0.5l6-0.8l6-1.2l6-2l6-2.7l6-3.5l6-4.1l6-4.7l6-5.1l6-5.7l6-6.2l6-6.7l6-6.8l6-6.8l6-6.4l6-6.4l6-6.4l6-6.4l6-6.3l6-6.2l6-6.1l6-6.1l6-6l6-6l6-5.9l6-5.8l6-6l6-5.8l6-5.8l6-5.5l6-5.3l6-5.1l6-5l6-4.8l6-4.6l6-4.4l6-4.2l6-4l6-3.8l6-3.7l6-3.5l6-3.5l6-3.4l6-3.3l6-3.2l6-3.2l6-3l6-3l6-3l6-2.9l6-2.9l6-2.8l6-2.6l6-2.5l6-2.4l6-2.3l6-2.2l6-2.2l6-2l6-2l6-1.8l6-1.7l6-1.6l6-1.5l6-1.4l6-1.4l6-1.3l6-1.1l6-1.2l6-1.1l6-1l6-1l6-1l6-1l6-0.9l6-0.9l6-0.9l6-0.8l6-0.7l6-0.8l6-0.7l6-0.8l6-0.7l6-0.7l6-0.7l6-0.7l6-0.7l6-0.6l6-0.7l6-0.6l6-0.7l6-0.6l6-0.6l6-0.7l6-0.6l6-0.6l6-0.7l6-0.6l6-0.6l6-0.6l6-0.6l6-0.6l6-0.6l6-0.5l6-0.6l6-0.6l6-0.6l6-0.6l6-0.6l6-0.5l6-0.6l6-0.6l6-0.6l6-0.6l6-0.5l6-0.6l6-0.6l6-0.6l2.9-0.3" stroke="url(#g13)"/><path d="M172,477.8l6-0.4l6-0.5l6-0.4l6-0.5l6-0.4l6-0.4l6-0.5l6-0.4l6-0.4l6-0.5l6-0.4l6-0.5l6-0.4l6-0.5l6-0.5l6-0.6l6-0.5l6-0.6l6-0.6l6-0.6l6-0.7l6-0.6l6-0.6l6-0.7l6-0.6l6-0.5l6-0.7l6-0.6l6-0.6l6-0.5l6-0.6l6-0.4l6-0.5l6-0.5l6-0.4l6-0.5l6-0.4l6-0.4l6-0.4l6-0.4l6-0.3l6-0.3l6-0.3l6-0.2l6-0.3l6-0.2l6-0.2l6-0.3l6-0.2l6-0.2l6-0.2l6-0.3l6-0.2l6-0.2l6-0.2l6-0.3l6-0.7l6-0.8l6-1.7l6-2.2l6-3l6-3.7l6-4.4l6-4.8l6-5.3l6-5.9l6-6.4l6-6.7l6-6.7l6-6.6l6-6.3l6-6.4l6-6.3l6-6.3l6-6.2l6-6.1l6-6.1l6-5.9l6-6l6-5.8l6-5.9l6-5.8l6-5.9l6-5.8l6-5.6l6-5.4l6-5.2l6-5l6-4.8l6-4.7l6-4.6l6-4.3l6-4l6-3.9l6-3.7l6-3.6l6-3.5l6-3.4l6-3.3l6-3.3l6-3.1l6-3.1l6-3l6-3l6-3l6-2.8l6-2.8l6-2.7l6-2.6l6-2.5l6-2.3l6-2.3l6-2.2l6-2.1l6-2l6-1.8l6-1.8l6-1.6l6-1.6l6-1.5l6-1.4l6-1.3l6-1.2l6-1.2l6-1.1l6-1.1l6-1l6-1l6-1l6-1l6-0.9l6-0.9l6-0.8l6-0.8l6-0.7l6-0.8l6-0.7l6-0.8l6-0.7l6-0.7l6-0.7l6-0.7l6-0.6l6-0.7l6-0.6l6-0.7l6-0.6l6-0.7l6-0.6l6-0.6l6-0.7l6-0.6l6-0.6l6-0.6l6-0.6l6-0.6l6-0.6l6-0.6l6-0.6l6-0.6l6-0.6l6-0.6l6-0.5l6-0.6l6-0.6l6-0.6l6-0.6l6-0.5l6-0.6l6-0.6l6-0.6l6-0.6l4.7-0.4" stroke="url(#g14)"/><path d="M172,479.2l6-0.4l6-0.5l6-0.4l6-0.5l6-0.4l6-0.4l6-0.5l6-0.4l6-0.4l6-0.5l6-0.4l6-0.5l6-0.4l6-0.5l6-0.5l6-0.5l6-0.6l6-0.6l6-0.6l6-0.6l6-0.7l6-0.6l6-0.6l6-0.6l6-0.7l6-0.5l6-0.7l6-0.6l6-0.6l6-0.5l6-0.5l6-0.5l6-0.4l6-0.5l6-0.4l6-0.4l6-0.4l6-0.4l6-0.4l6-0.4l6-0.3l6-0.3l6-0.3l6-0.2l6-0.3l6-0.2l6-0.2l6-0.3l6-0.2l6-0.2l6-0.3l6-0.2l6-0.2l6-0.2l6-0.2l6-0.2l6-0.2l6-0.5l6-0.7l6-1.1l6-1.9l6-2.6l6-3.4l6-4l6-4.6l6-5.2l6-5.6l6-6.2l6-6.7l6-6.8l6-6.8l6-6.6l6-6.4l6-6.5l6-6.4l6-6.3l6-6.3l6-6.2l6-6.1l6-6l6-6l6-6l6-5.9l6-6l6-5.9l6-5.8l6-5.5l6-5.3l6-5.2l6-5l6-4.8l6-4.6l6-4.5l6-4.2l6-4l6-3.8l6-3.6l6-3.6l6-3.5l6-3.4l6-3.3l6-3.2l6-3.1l6-3.1l6-3l6-3l6-2.9l6-2.9l6-2.7l6-2.7l6-2.5l6-2.3l6-2.3l6-2.2l6-2.2l6-2l6-1.9l6-1.8l6-1.7l6-1.6l6-1.5l6-1.4l6-1.3l6-1.2l6-1.2l6-1.2l6-1l6-1.1l6-1l6-1l6-0.9l6-0.9l6-0.9l6-0.8l6-0.8l6-0.8l6-0.7l6-0.8l6-0.7l6-0.7l6-0.7l6-0.7l6-0.7l6-0.7l6-0.6l6-0.7l6-0.6l6-0.7l6-0.6l6-0.7l6-0.6l6-0.6l6-0.6l6-0.7l6-0.6l6-0.6l6-0.6l6-0.6l6-0.6l6-0.5l6-0.6l6-0.6l6-0.6l6-0.6l6-0.6l6-0.5l6-0.6l6-0.6l6-0.6l6-0.6l6-0.5l6-0.6" stroke="url(#g15)"/><path d="M172,478.8l6-0.5l6-0.4l6-0.5l6-0.4l6-0.5l6-0.4l6-0.4l6-0.5l6-0.4l6-0.4l6-0.5l6-0.4l6-0.5l6-0.5l6-0.5l6-0.5l6-0.6l6-0.5l6-0.6l6-0.7l6-0.6l6-0.6l6-0.7l6-0.6l6-0.6l6-0.6l6-0.6l6-0.6l6-0.6l6-0.5l6-0.6l6-0.4l6-0.5l6-0.5l6-0.4l6-0.4l6-0.4l6-0.4l6-0.4l6-0.4l6-0.3l6-0.3l6-0.3l6-0.2l6-0.3l6-0.2l6-0.2l6-0.3l6-0.2l6-0.2l6-0.3l6-0.2l6-0.2l6-0.2l6-0.2l6-0.2l6-0.2l6-0.2l6-0.3l6-0.6l6-0.8l6-1.5l6-2.2l6-3l6-3.6l6-4.3l6-4.9l6-5.2l6-5.8l6-6.4l6-6.7l6-6.8l6-6.6l6-6.3l6-6.4l6-6.3l6-6.3l6-6.2l6-6.2l6-6l6-6l6-5.9l6-5.9l6-5.9l6-5.8l6-5.9l6-5.8l6-5.6l6-5.4l6-5.1l6-5l6-4.9l6-4.6l6-4.5l6-4.3l6-4l6-3.9l6-3.6l6-3.6l6-3.4l6-3.4l6-3.3l6-3.3l6-3.1l6-3l6-3.1l6-2.9l6-2.9l6-2.9l6-2.8l6-2.6l6-2.6l6-2.4l6-2.3l6-2.2l6-2.2l6-2l6-2l6-1.8l6-1.7l6-1.6l6-1.6l6-1.4l6-1.4l6-1.2l6-1.2l6-1.2l6-1.1l6-1l6-1l6-1l6-1l6-0.9l6-0.9l6-0.9l6-0.8l6-0.7l6-0.8l6-0.7l6-0.8l6-0.7l6-0.7l6-0.7l6-0.7l6-0.7l6-0.6l6-0.7l6-0.6l6-0.7l6-0.6l6-0.7l6-0.6l6-0.6l6-0.6l6-0.7l6-0.6l6-0.6l6-0.6l6-0.6l6-0.6l6-0.6l6-0.6l6-0.5l6-0.6l6-0.6l6-0.6l6-0.6l6-0.5l6-0.6l6-0.6l6-0.6l5.9-0.6" stroke="url(#g16)"/><path d="M172,479.8l6-0.4l6-0.5l6-0.5l6-0.4l6-0.4l6-0.5l6-0.4l6-0.4l6-0.5l6-0.4l6-0.4l6-0.5l6-0.5l6-0.5l6-0.4l6-0.6l6-0.5l6-0.6l6-0.6l6-0.6l6-0.7l6-0.6l6-0.6l6-0.7l6-0.6l6-0.6l6-0.6l6-0.6l6-0.6l6-0.5l6-0.5l6-0.5l6-0.4l6-0.5l6-0.4l6-0.4l6-0.4l6-0.4l6-0.4l6-0.3l6-0.4l6-0.3l6-0.2l6-0.3l6-0.2l6-0.2l6-0.3l6-0.2l6-0.2l6-0.3l6-0.2l6-0.2l6-0.2l6-0.3l6-0.2l6-0.2l6-0.2l6-0.2l6-0.2l6-0.2l6-0.4l6-0.7l6-1.1l6-2l6-2.5l6-3.4l6-3.9l6-4.6l6-5.1l6-5.5l6-6.2l6-6.6l6-6.8l6-6.7l6-6.5l6-6.4l6-6.4l6-6.4l6-6.3l6-6.2l6-6.2l6-6l6-6.1l6-5.9l6-5.9l6-5.9l6-5.9l6-5.9l6-5.8l6-5.6l6-5.3l6-5.2l6-5l6-4.8l6-4.7l6-4.5l6-4.2l6-4l6-3.9l6-3.6l6-3.6l6-3.5l6-3.4l6-3.3l6-3.2l6-3.2l6-3l6-3.1l6-2.9l6-3l6-2.8l6-2.8l6-2.7l6-2.5l6-2.5l6-2.3l6-2.2l6-2.2l6-2.1l6-2l6-1.8l6-1.7l6-1.6l6-1.6l6-1.5l6-1.4l6-1.2l6-1.3l6-1.1l6-1.1l6-1.1l6-1l6-1l6-1l6-0.9l6-0.9l6-0.9l6-0.8l6-0.8l6-0.7l6-0.8l6-0.7l6-0.8l6-0.7l6-0.7l6-0.7l6-0.7l6-0.6l6-0.7l6-0.6l6-0.7l6-0.6l6-0.7l6-0.6l6-0.6l6-0.6l6-0.7l6-0.6l6-0.6l6-0.6l6-0.6l6-0.6l6-0.6l6-0.6l6-0.6l6-0.5l6-0.6l6-0.6l6-0.6l6-0.6l6-0.6l6-0.5l1.8-0.2" stroke="url(#g17)"/><path d="M172,481.1l6-0.4l6-0.5l6-0.4l6-0.5l6-0.4l6-0.5l6-0.4l6-0.4l6-0.4l6-0.5l6-0.4l6-0.5l6-0.5l6-0.4l6-0.5l6-0.6l6-0.5l6-0.6l6-0.6l6-0.6l6-0.7l6-0.6l6-0.6l6-0.7l6-0.6l6-0.6l6-0.6l6-0.6l6-0.5l6-0.5l6-0.5l6-0.5l6-0.4l6-0.5l6-0.4l6-0.4l6-0.4l6-0.3l6-0.4l6-0.4l6-0.3l6-0.3l6-0.2l6-0.3l6-0.2l6-0.3l6-0.2l6-0.2l6-0.2l6-0.3l6-0.2l6-0.2l6-0.2l6-0.3l6-0.2l6-0.2l6-0.2l6-0.2l6-0.2l6-0.2l6-0.2l6-0.2l6-0.6l6-0.8l6-1.5l6-2.2l6-3l6-3.6l6-4.4l6-4.9l6-5.3l6-5.9l6-6.4l6-6.9l6-6.9l6-6.7l6-6.5l6-6.5l6-6.4l6-6.4l6-6.4l6-6.2l6-6.2l6-6.1l6-6l6-6l6-6l6-6l6-6l6-5.9l6-5.7l6-5.5l6-5.2l6-5.1l6-5l6-4.7l6-4.6l6-4.4l6-4.1l6-3.9l6-3.7l6-3.6l6-3.6l6-3.4l6-3.4l6-3.3l6-3.2l6-3.1l6-3l6-3l6-3l6-2.9l6-2.8l6-2.7l6-2.6l6-2.5l6-2.3l6-2.3l6-2.2l6-2.1l6-2l6-1.9l6-1.7l6-1.6l6-1.6l6-1.5l6-1.4l6-1.3l6-1.2l6-1.1l6-1.2l6-1l6-1l6-1l6-1l6-1l6-0.9l6-0.8l6-0.8l6-0.8l6-0.8l6-0.7l6-0.8l6-0.7l6-0.7l6-0.7l6-0.7l6-0.7l6-0.7l6-0.6l6-0.7l6-0.6l6-0.6l6-0.7l6-0.6l6-0.7l6-0.6l6-0.6l6-0.6l6-0.6l6-0.6l6-0.6l6-0.6l6-0.6l6-0.6l6-0.6l6-0.6l6-0.5l6-0.6l6-0.6l6-0.6l6-0.6l1.5-0.1" stroke="url(#g18)"/><path d="M172,480.9l6-0.4l6-0.5l6-0.5l6-0.4l6-0.4l6-0.5l6-0.4l6-0.4l6-0.5l6-0.4l6-0.4l6-0.5l6-0.5l6-0.5l6-0.4l6-0.6l6-0.5l6-0.6l6-0.6l6-0.6l6-0.7l6-0.6l6-0.6l6-0.7l6-0.6l6-0.6l6-0.6l6-0.6l6-0.5l6-0.6l6-0.4l6-0.5l6-0.5l6-0.4l6-0.4l6-0.4l6-0.4l6-0.4l6-0.3l6-0.4l6-0.3l6-0.3l6-0.3l6-0.2l6-0.3l6-0.2l6-0.2l6-0.3l6-0.2l6-0.2l6-0.2l6-0.3l6-0.2l6-0.2l6-0.2l6-0.2l6-0.2l6-0.2l6-0.2l6-0.2l6-0.2l6-0.2l6-0.2l6-0.4l6-0.7l6-0.9l6-1.9l6-2.4l6-3.4l6-3.9l6-4.6l6-5.1l6-5.5l6-6.2l6-6.7l6-6.9l6-6.8l6-6.6l6-6.5l6-6.5l6-6.5l6-6.3l6-6.3l6-6.3l6-6.1l6-6.1l6-6l6-6l6-6l6-6l6-5.9l6-5.8l6-5.7l6-5.3l6-5.2l6-5l6-4.8l6-4.7l6-4.4l6-4.2l6-4l6-3.8l6-3.7l6-3.5l6-3.5l6-3.4l6-3.3l6-3.2l6-3.2l6-3l6-3.1l6-3l6-2.9l6-2.8l6-2.8l6-2.6l6-2.5l6-2.4l6-2.3l6-2.2l6-2.1l6-2.1l6-1.9l6-1.8l6-1.6l6-1.6l6-1.5l6-1.4l6-1.3l6-1.3l6-1.1l6-1.2l6-1l6-1.1l6-1l6-1l6-0.9l6-0.9l6-0.9l6-0.8l6-0.8l6-0.8l6-0.7l6-0.8l6-0.7l6-0.7l6-0.7l6-0.7l6-0.7l6-0.7l6-0.6l6-0.7l6-0.6l6-0.7l6-0.6l6-0.6l6-0.7l6-0.6l6-0.6l6-0.6l6-0.6l6-0.7l6-0.6l6-0.5l6-0.6l6-0.6l6-0.6l6-0.6l6-0.6l6-0.5l6-0.6l6-0.6l0.1-0" stroke="url(#g19)"/><path d="M172,481.4l6-0.4l6-0.5l6-0.4l6-0.5l6-0.4l6-0.5l6-0.4l6-0.4l6-0.4l6-0.5l6-0.4l6-0.5l6-0.5l6-0.4l6-0.5l6-0.6l6-0.5l6-0.6l6-0.6l6-0.6l6-0.7l6-0.6l6-0.6l6-0.7l6-0.6l6-0.6l6-0.6l6-0.6l6-0.5l6-0.5l6-0.5l6-0.5l6-0.4l6-0.4l6-0.5l6-0.4l6-0.3l6-0.4l6-0.4l6-0.3l6-0.4l6-0.2l6-0.3l6-0.2l6-0.3l6-0.2l6-0.2l6-0.3l6-0.2l6-0.2l6-0.3l6-0.2l6-0.2l6-0.2l6-0.2l6-0.2l6-0.2l6-0.2l6-0.2l6-0.2l6-0.2l6-0.2l6-0.2l6-0.2l6-0.3l6-0.6l6-0.9l6-1.6l6-2.2l6-3.1l6-3.7l6-4.4l6-4.8l6-5.3l6-5.9l6-6.4l6-6.7l6-6.7l6-6.5l6-6.4l6-6.3l6-6.3l6-6.3l6-6.2l6-6.1l6-6.1l6-5.9l6-5.9l6-5.9l6-5.9l6-5.8l6-5.9l6-5.7l6-5.6l6-5.4l6-5.1l6-5l6-4.8l6-4.7l6-4.4l6-4.3l6-4l6-3.9l6-3.6l6-3.6l6-3.4l6-3.4l6-3.3l6-3.2l6-3.2l6-3l6-3l6-3l6-2.9l6-2.8l6-2.8l6-2.7l6-2.5l6-2.5l6-2.3l6-2.2l6-2.2l6-2l6-2l6-1.9l6-1.7l6-1.6l6-1.6l6-1.5l6-1.3l6-1.3l6-1.3l6-1.1l6-1.1l6-1.1l6-1l6-1l6-1l6-0.9l6-0.9l6-0.9l6-0.8l6-0.8l6-0.7l6-0.8l6-0.7l6-0.8l6-0.7l6-0.7l6-0.7l6-0.7l6-0.6l6-0.7l6-0.6l6-0.7l6-0.6l6-0.6l6-0.7l6-0.6l6-0.6l6-0.7l6-0.6l6-0.6l6-0.6l6-0.6l6-0.6l6-0.6l6-0.6l6-0.6l6-0.5l6-0.6l6-0.6" stroke="url(#g20)"/><path d="M172,481.8l6-0.5l6-0.5l6-0.4l6-0.5l6-0.4l6-0.4l6-0.5l6-0.4l6-0.4l6-0.5l6-0.4l6-0.5l6-0.4l6-0.5l6-0.5l6-0.5l6-0.6l6-0.6l6-0.6l6-0.6l6-0.7l6-0.6l6-0.6l6-0.6l6-0.7l6-0.5l6-0.6l6-0.6l6-0.6l6-0.5l6-0.5l6-0.4l6-0.5l6-0.4l6-0.4l6-0.4l6-0.4l6-0.4l6-0.3l6-0.4l6-0.3l6-0.3l6-0.2l6-0.3l6-0.2l6-0.3l6-0.2l6-0.2l6-0.2l6-0.3l6-0.2l6-0.2l6-0.2l6-0.3l6-0.2l6-0.2l6-0.2l6-0.2l6-0.2l6-0.2l6-0.2l6-0.2l6-0.2l6-0.2l6-0.1l6-0.2l6-0.4l6-0.7l6-0.9l6-1.8l6-2.4l6-3.4l6-3.9l6-4.6l6-5.2l6-5.5l6-6.3l6-6.7l6-6.9l6-6.9l6-6.6l6-6.6l6-6.5l6-6.5l6-6.4l6-6.4l6-6.2l6-6.2l6-6.1l6-6.1l6-6l6-6.1l6-6l6-6l6-5.8l6-5.6l6-5.4l6-5.1l6-5l6-4.9l6-4.6l6-4.4l6-4.2l6-4l6-3.8l6-3.7l6-3.5l6-3.5l6-3.4l6-3.3l6-3.2l6-3.2l6-3l6-3.1l6-3l6-2.9l6-2.8l6-2.8l6-2.6l6-2.4l6-2.4l6-2.3l6-2.2l6-2.1l6-2l6-1.9l6-1.7l6-1.7l6-1.5l6-1.5l6-1.4l6-1.3l6-1.2l6-1.2l6-1.1l6-1.1l6-1l6-1l6-0.9l6-1l6-0.9l6-0.9l6-0.8l6-0.7l6-0.8l6-0.7l6-0.8l6-0.7l6-0.7l6-0.7l6-0.7l6-0.7l6-0.6l6-0.7l6-0.6l6-0.7l6-0.6l6-0.7l6-0.6l6-0.6l6-0.7l6-0.6l6-0.6l6-0.6l6-0.6l6-0.6l6-0.6l6-0.6l6-0.6l6-0.5l6-0.6l6-0.6l1.3-0.1" stroke="url(#g21)"/><path d="M172,482.6l6-0.5l6-0.4l6-0.5l6-0.4l6-0.4l6-0.5l6-0.4l6-0.4l6-0.5l6-0.4l6-0.5l6-0.4l6-0.5l6-0.5l6-0.5l6-0.5l6-0.5l6-0.6l6-0.6l6-0.7l6-0.6l6-0.6l6-0.7l6-0.6l6-0.6l6-0.6l6-0.6l6-0.6l6-0.5l6-0.5l6-0.5l6-0.4l6-0.5l6-0.4l6-0.4l6-0.4l6-0.4l6-0.3l6-0.4l6-0.3l6-0.3l6-0.3l6-0.3l6-0.2l6-0.2l6-0.3l6-0.2l6-0.2l6-0.3l6-0.2l6-0.2l6-0.3l6-0.2l6-0.2l6-0.2l6-0.2l6-0.2l6-0.2l6-0.2l6-0.2l6-0.2l6-0.2l6-0.2l6-0.2l6-0.2l6-0.2l6-0.1l6-0.2l6-0.5l6-0.6l6-1l6-1.8l6-2.2l6-3.2l6-3.7l6-4.3l6-4.9l6-5.2l6-5.7l6-6.4l6-6.6l6-6.7l6-6.6l6-6.4l6-6.3l6-6.3l6-6.3l6-6.3l6-6.1l6-6.1l6-6l6-5.9l6-5.9l6-5.9l6-5.8l6-5.8l6-5.9l6-5.7l6-5.6l6-5.3l6-5.1l6-5l6-4.8l6-4.7l6-4.5l6-4.3l6-4l6-3.9l6-3.8l6-3.5l6-3.5l6-3.4l6-3.4l6-3.2l6-3.2l6-3.1l6-3l6-3l6-2.9l6-2.9l6-2.9l6-2.7l6-2.7l6-2.6l6-2.4l6-2.3l6-2.3l6-2.1l6-2.1l6-2l6-1.9l6-1.8l6-1.7l6-1.6l6-1.5l6-1.4l6-1.4l6-1.2l6-1.2l6-1.2l6-1.1l6-1l6-1l6-1l6-1l6-0.9l6-1l6-0.8l6-0.9l6-0.7l6-0.8l6-0.8l6-0.7l6-0.7l6-0.7l6-0.8l6-0.7l6-0.6l6-0.7l6-0.7l6-0.6l6-0.7l6-0.6l6-0.7l6-0.6l6-0.6l6-0.7l6-0.6l6-0.6l6-0.6l6-0.6l6-0.7l1.9-0.1" stroke="url(#g22)"/><path d="M172,483.5l6-0.5l6-0.4l6-0.5l6-0.4l6-0.5l6-0.4l6-0.4l6-0.5l6-0.4l6-0.4l6-0.5l6-0.4l6-0.5l6-0.5l6-0.5l6-0.5l6-0.6l6-0.5l6-0.7l6-0.6l6-0.6l6-0.6l6-0.7l6-0.6l6-0.6l6-0.6l6-0.6l6-0.6l6-0.5l6-0.5l6-0.5l6-0.4l6-0.4l6-0.4l6-0.4l6-0.4l6-0.4l6-0.3l6-0.4l6-0.3l6-0.3l6-0.3l6-0.3l6-0.2l6-0.2l6-0.3l6-0.2l6-0.2l6-0.3l6-0.2l6-0.2l6-0.3l6-0.2l6-0.2l6-0.2l6-0.2l6-0.2l6-0.2l6-0.2l6-0.2l6-0.2l6-0.2l6-0.2l6-0.2l6-0.2l6-0.2l6-0.1l6-0.2l6-0.2l6-0.2l6-0.3l6-0.6l6-0.7l6-1.5l6-2l6-2.8l6-3.5l6-4.2l6-4.6l6-5.2l6-5.5l6-6.2l6-6.6l6-6.8l6-6.8l6-6.5l6-6.4l6-6.3l6-6.4l6-6.3l6-6.3l6-6.1l6-6.1l6-6l6-6l6-5.9l6-5.8l6-5.9l6-5.9l6-5.8l6-5.6l6-5.4l6-5.2l6-5l6-4.9l6-4.8l6-4.5l6-4.4l6-4.1l6-4l6-3.7l6-3.6l6-3.5l6-3.5l6-3.3l6-3.3l6-3.2l6-3.1l6-3.1l6-3l6-2.9l6-3l6-2.8l6-2.8l6-2.7l6-2.5l6-2.5l6-2.3l6-2.3l6-2.2l6-2.1l6-2l6-1.9l6-1.7l6-1.7l6-1.6l6-1.5l6-1.4l6-1.4l6-1.2l6-1.2l6-1.2l6-1l6-1.1l6-1l6-1l6-1l6-0.9l6-0.9l6-0.9l6-0.8l6-0.8l6-0.7l6-0.8l6-0.7l6-0.7l6-0.8l6-0.7l6-0.7l6-0.6l6-0.7l6-0.7l6-0.6l6-0.7l6-0.6l6-0.6l6-0.7l6-0.6l6-0.6l6-0.7l6-0.6l6-0.6" stroke="url(#g23)"/><path d="M172,484.4l6-0.5l6-0.5l6-0.4l6-0.4l6-0.5l6-0.4l6-0.4l6-0.5l6-0.4l6-0.5l6-0.4l6-0.5l6-0.4l6-0.5l6-0.5l6-0.5l6-0.6l6-0.6l6-0.6l6-0.6l6-0.6l6-0.7l6-0.6l6-0.6l6-0.6l6-0.6l6-0.6l6-0.6l6-0.5l6-0.5l6-0.4l6-0.5l6-0.4l6-0.4l6-0.4l6-0.4l6-0.3l6-0.4l6-0.3l6-0.3l6-0.3l6-0.3l6-0.3l6-0.2l6-0.2l6-0.3l6-0.2l6-0.2l6-0.3l6-0.2l6-0.2l6-0.3l6-0.2l6-0.2l6-0.2l6-0.2l6-0.2l6-0.2l6-0.2l6-0.2l6-0.2l6-0.2l6-0.2l6-0.2l6-0.2l6-0.2l6-0.1l6-0.2l6-0.2l6-0.2l6-0.2l6-0.2l6-0.2l6-0.2l6-0.2l6-0.2l6-0.4l6-0.8l6-1.3l6-2.2l6-3l6-3.9l6-4.7l6-5.4l6-5.9l6-6.7l6-7.2l6-7.6l6-7.6l6-7.3l6-7.2l6-7.1l6-7.1l6-7.1l6-6.9l6-6.8l6-6.7l6-6.6l6-6.6l6-6.5l6-6.5l6-6.5l6-6.4l6-6.1l6-5.9l6-5.6l6-5.4l6-5.2l6-5l6-4.8l6-4.4l6-4.3l6-4l6-3.9l6-3.8l6-3.7l6-3.6l6-3.5l6-3.4l6-3.3l6-3.3l6-3.2l6-3.1l6-3.1l6-2.9l6-2.8l6-2.6l6-2.5l6-2.4l6-2.3l6-2.2l6-2.1l6-1.9l6-1.7l6-1.7l6-1.6l6-1.5l6-1.4l6-1.2l6-1.3l6-1.1l6-1.1l6-1.1l6-1l6-1l6-1l6-0.9l6-0.8l6-0.8l6-0.8l6-0.8l6-0.7l6-0.8l6-0.7l6-0.7l6-0.7l6-0.7l6-0.7l6-0.6l6-0.7l6-0.6l6-0.6l6-0.7l6-0.6l6-0.7l6-0.6l6-0.6l6-0.6l6-0.6l6-0.6l6-0.6l6-0.6l1.9-0.2" stroke="url(#g24)"/><path d="M172,485.3l6-0.5l6-0.5l6-0.4l6-0.5l6-0.4l6-0.4l6-0.5l6-0.4l6-0.4l6-0.5l6-0.4l6-0.5l6-0.4l6-0.5l6-0.5l6-0.5l6-0.6l6-0.6l6-0.6l6-0.6l6-0.7l6-0.6l6-0.6l6-0.6l6-0.7l6-0.5l6-0.6l6-0.6l6-0.5l6-0.5l6-0.4l6-0.5l6-0.4l6-0.4l6-0.3l6-0.4l6-0.4l6-0.3l6-0.3l6-0.3l6-0.3l6-0.3l6-0.3l6-0.2l6-0.2l6-0.3l6-0.2l6-0.2l6-0.3l6-0.2l6-0.2l6-0.3l6-0.2l6-0.2l6-0.2l6-0.2l6-0.2l6-0.2l6-0.2l6-0.2l6-0.2l6-0.2l6-0.2l6-0.2l6-0.2l6-0.2l6-0.1l6-0.2l6-0.2l6-0.2l6-0.2l6-0.2l6-0.2l6-0.2l6-0.2l6-0.2l6-0.2l6-0.2l6-0.3l6-0.6l6-0.8l6-1.7l6-2.4l6-3.5l6-4.2l6-5.1l6-5.6l6-6.1l6-6.9l6-7.5l6-7.6l6-7.6l6-7.2l6-7.1l6-7.2l6-7.1l6-6.9l6-6.9l6-6.7l6-6.7l6-6.6l6-6.5l6-6.5l6-6.5l6-6.5l6-6.3l6-6l6-5.7l6-5.6l6-5.3l6-5.1l6-4.9l6-4.7l6-4.4l6-4.1l6-4l6-3.8l6-3.8l6-3.7l6-3.5l6-3.5l6-3.3l6-3.3l6-3.3l6-3.1l6-3.2l6-2.9l6-2.9l6-2.7l6-2.6l6-2.5l6-2.3l6-2.3l6-2.1l6-2.1l6-1.8l6-1.7l6-1.7l6-1.5l6-1.5l6-1.3l6-1.2l6-1.2l6-1.2l6-1l6-1.1l6-1l6-1l6-0.9l6-0.9l6-0.9l6-0.7l6-0.8l6-0.8l6-0.7l6-0.8l6-0.7l6-0.7l6-0.7l6-0.7l6-0.6l6-0.7l6-0.6l6-0.7l6-0.6l6-0.7l6-0.6l6-0.6l6-0.6l6-0.7l6-0.6l6-0.6l1.7-0.2" stroke="url(#g25)"/><path d="M172,485.7l6-0.5l6-0.4l6-0.5l6-0.4l6-0.5l6-0.4l6-0.4l6-0.5l6-0.4l6-0.4l6-0.5l6-0.4l6-0.5l6-0.5l6-0.5l6-0.5l6-0.6l6-0.5l6-0.7l6-0.6l6-0.6l6-0.6l6-0.7l6-0.6l6-0.6l6-0.6l6-0.6l6-0.5l6-0.6l6-0.4l6-0.5l6-0.4l6-0.4l6-0.4l6-0.4l6-0.3l6-0.4l6-0.3l6-0.3l6-0.3l6-0.3l6-0.3l6-0.3l6-0.2l6-0.2l6-0.3l6-0.2l6-0.2l6-0.3l6-0.2l6-0.2l6-0.3l6-0.2l6-0.2l6-0.2l6-0.2l6-0.2l6-0.2l6-0.2l6-0.2l6-0.2l6-0.2l6-0.2l6-0.2l6-0.2l6-0.2l6-0.1l6-0.2l6-0.2l6-0.2l6-0.2l6-0.2l6-0.2l6-0.2l6-0.2l6-0.2l6-0.2l6-0.2l6-0.2l6-0.2l6-0.3l6-0.2l6-0.6l6-0.8l6-1.5l6-2.3l6-3.1l6-3.9l6-4.6l6-5.2l6-5.7l6-6.3l6-7l6-7.2l6-7.4l6-7.1l6-6.9l6-6.9l6-6.8l6-6.8l6-6.7l6-6.6l6-6.5l6-6.4l6-6.3l6-6.3l6-6.3l6-6.3l6-6.2l6-6.2l6-5.9l6-5.6l6-5.4l6-5.3l6-5.1l6-4.9l6-4.7l6-4.4l6-4.2l6-4l6-3.8l6-3.7l6-3.7l6-3.5l6-3.5l6-3.3l6-3.3l6-3.2l6-3.2l6-3.1l6-3l6-3l6-2.8l6-2.7l6-2.6l6-2.5l6-2.3l6-2.3l6-2.2l6-2.1l6-2l6-1.8l6-1.7l6-1.6l6-1.5l6-1.4l6-1.4l6-1.2l6-1.2l6-1.1l6-1.1l6-1.1l6-1l6-1l6-0.9l6-1l6-0.8l6-0.8l6-0.8l6-0.8l6-0.7l6-0.8l6-0.7l6-0.7l6-0.7l6-0.7l6-0.7l6-0.7l6-0.6l6-0.7l6-0.6l6-0.7l1-0.1" stroke="url(#g26)"/><path d="M172,485.6l6-0.4l6-0.3l6-0.4l6-0.4l6-0.5l6-0.4l6-0.4l6-0.5l6-0.4l6-0.5l6-0.4l6-0.5l6-0.5l6-0.5l6-0.4l6-0.5l6-0.5l6.1-0.5l6-0.5l6-0.5l6-0.4l6-0.5l6-0.5l6-0.5l6-0.4l6-0.5l6-0.4l6-0.5l6-0.4l6-0.5l6-0.4l6-0.4l6-0.4l6-0.4l6-0.4l6-0.3l6-0.4l6-0.3l6-0.3l6-0.3l6-0.3l6-0.3l6-0.3l6-0.3l6-0.2l6-0.3l6-0.2l6-0.3l6-0.2l6-0.3l6-0.2l6.1-0.2l6-0.3l6-0.2l6-0.3l6-0.2l6-0.3l6-0.2l6-0.3l6-0.2l6-0.3l6-0.2l6-0.3l6-0.3l6-0.3l6-0.3l6-0.3l6-0.3l6-0.3l6-0.3l6-0.3l6-0.3l6-0.3l6-0.4l6-0.4l6-0.4l6-0.4l6-0.5l6-0.5l6-0.5l6-0.7l6-0.7l6-0.7l6-0.8l6-0.8l6-0.8l6.1-0.9l6-1l6-1l6-1.2l6-1.2l6-1.4l6-1.6l6-1.8l6-2l6-2.3l6-2.8l6-3.2l6-3.8l6-4.4l6-4.9l6-5.7l6-6.2l6-6.6l6-6.8l6-6.8l6-6.6l6-6.5l6-6.3l6-6.1l6-6.2l6-6.4l6-6.9l6-7l6-7.1l6-6.9l6-6.7l6-6.6l6-6.5l6-6.3l6.1-6.1l6-5.9l6-5.6l6-5.5l6-5.2l6-4.9l6-4.6l6-4.5l6-4.2l6-4.1l6-4l6-3.9l6-3.8l6-3.7l6-3.5l6-3.3l6-3l6-2.9l6-2.7l6-2.6l6-2.4l6-2.3l6-2.2l6-2.2l6-2l6-2l6-1.9l6-1.8l6-1.8l6-1.8l6-1.8l6-1.7l6-1.6l6-1.6l6.1-1.5l6-1.5l6-1.4l6-1.2l6-1.2l6-1.2l6-1.1l6-1l6-1l6-0.9l6-1l6-0.9l6-0.8l6-0.9l6-0.8l6-0.7l6-0.8l6-0.7" stroke="url(#g27)"/><path d="M172,486.6l6-0.4l6-0.3l6-0.4l6-0.4l6-0.4l6-0.4l6-0.5l6-0.4l6-0.4l6-0.5l6-0.4l6-0.5l6-0.4l6-0.5l6-0.5l6-0.4l6-0.5l6-0.5l6-0.4l6-0.5l6-0.5l6-0.4l6-0.5l6-0.4l6-0.5l6-0.4l6-0.5l6-0.4l6.1-0.4l6-0.4l6-0.4l6-0.4l6-0.4l6-0.4l6-0.4l6-0.3l6-0.4l6-0.3l6-0.3l6-0.3l6-0.3l6-0.3l6-0.3l6-0.3l6-0.2l6-0.3l6-0.2l6-0.3l6-0.2l6-0.3l6-0.2l6-0.2l6-0.3l6-0.2l6-0.3l6-0.2l6-0.3l6-0.2l6-0.3l6-0.2l6-0.3l6-0.3l6-0.2l6-0.3l6-0.3l6-0.3l6-0.3l6-0.3l6-0.3l6-0.3l6-0.3l6-0.3l6-0.3l6-0.3l6-0.3l6-0.3l6-0.4l6-0.4l6-0.4l6-0.4l6-0.4l6-0.5l6-0.5l6-0.5l6-0.6l6-0.6l6.1-0.6l6-0.7l6-0.6l6-0.7l6-0.6l6-0.7l6-0.6l6-0.7l6-0.8l6-0.8l6-0.9l6-0.9l6-1l6-1.1l6-1.2l6-1.4l6-1.5l6-1.7l6-1.9l6-2.3l6-2.6l6-3.2l6-3.8l6-4.7l6-5.7l6-6.8l6-7.6l6-7.9l6-7.6l6-7.3l6-6.8l6-6.4l6-6.1l6-6l6-5.9l6-5.9l6-6l6-6l6-6l6-6l6-6l6-6l6-6.1l6-6.1l6-6l6-5.8l6-5.6l6-5.3l6-5.1l6-4.9l6-4.6l6-4.4l6-4.2l6-4l6-3.8l6-3.6l6-3.4l6.1-3.3l6-3.1l6-3l6-3l6-2.7l6-2.7l6-2.6l6-2.4l6-2.3l6-2.2l6-2.1l6-1.9l6-1.8l6-1.7l6-1.6l6-1.4l6-1.4l6-1.4l6-1.3l6-1.3l6-1.1l6-1.1l6-0.9l6-0.9l6-0.8l6-0.7l6-0.7l6-0.6l6-0.5" stroke="url(#g28)"/><path d="M172,488.6l6-0.4l6-0.3l6-0.4l6-0.4l6-0.5l6-0.4l6-0.4l6-0.5l6-0.4l6-0.5l6-0.5l6-0.4l6-0.5l6-0.5l6-0.5l6-0.5l6-0.6l6-0.5l6-0.6l6-0.6l6-0.6l6.1-0.6l6-0.6l6-0.6l6-0.5l6-0.6l6-0.5l6-0.5l6-0.4l6-0.4l6-0.4l6-0.4l6-0.3l6-0.4l6-0.3l6-0.3l6-0.3l6-0.3l6-0.3l6-0.3l6-0.2l6-0.3l6-0.3l6-0.2l6-0.3l6-0.3l6-0.2l6-0.3l6-0.2l6-0.3l6-0.3l6-0.2l6-0.3l6-0.2l6-0.2l6-0.3l6-0.2l6-0.2l6-0.3l6-0.2l6-0.2l6-0.3l6-0.2l6-0.2l6.1-0.3l6-0.2l6-0.3l6-0.2l6-0.3l6-0.3l6-0.2l6-0.3l6-0.2l6-0.3l6-0.3l6-0.3l6-0.2l6-0.3l6-0.3l6-0.3l6-0.3l6-0.3l6-0.3l6-0.3l6-0.4l6-0.3l6-0.3l6-0.2l6-0.3l6-0.3l6-0.2l6-0.3l6-0.3l6-0.3l6-0.2l6-0.3l6-0.3l6-0.4l6-0.3l6-0.3l6-0.4l6-0.4l6-0.4l6-0.4l6-0.5l6-0.4l6-0.5l6.1-0.4l6-0.5l6-0.6l6-0.5l6-0.7l6-0.8l6-0.8l6-1l6-0.9l6-1.1l6-1.2l6-1.4l6-1.7l6-1.9l6-2.3l6-2.5l6-3l6-3.4l6-4.1l6-4.9l6-5.4l6-5.9l6-6.4l6-6.8l6-6.9l6-6.9l6-6.7l6-6.5l6-6.4l6-6.2l6-6.1l6-5.9l6-6l6-6.1l6-6.3l6-6.4l6-6.5l6-6.5l6-6.4l6-6.4l6-6.4l6-6.5l6-6.5l6.1-6.1l6-5.7l6-5.3l6-5.1l6-4.8l6-4.4l6-4l6-3.7l6-3.2l6-2.9l6-2.5l6-1.9l6-1.4l6-1.3l6-1.5l6-1.4l6-1.4l6-1.2l6-1.2l6-1.1l6-1.1l6-1" stroke="url(#g29)"/></g>
<rect x="167" y="308" width="1079.3" height="80" fill="url(#bandg)"/>
<path d="M171.6,836.3C193,836.3 268.3,836.3 300,836.3C331.7,836.3 349.3,836.4 362,836.2C374.7,836 372,835.8 376,835C380,834.2 382,833 386,831.5C390,830 395.3,828.1 400,826.3C404.7,824.5 407.3,823.3 414,820.8C420.7,818.3 433.1,814 440,811.3C446.9,808.6 451.3,806.8 455.6,804.6C459.9,802.4 462.3,800.6 466,798C469.7,795.4 473.3,793.3 478,788.8C482.7,784.3 489.2,777.7 494,771C498.8,764.3 503.1,757.3 506.8,748.8C510.5,740.3 512.7,731.2 516.4,720C520.1,708.8 524.9,692.6 529.2,681.6C533.5,670.6 537.2,663.1 542,654C546.8,644.9 552.7,634.8 558,627.2C563.3,619.6 568.7,613.2 574,608.5C579.3,603.8 585,601 590,598.8C595,596.6 599.7,595.9 604,595.2C608.3,594.5 611.6,594.6 615.6,594.6C619.6,594.6 624.3,594.8 628,595.2C631.7,595.6 634.3,595.9 638,596.8C641.7,597.7 646,599 650,600.5C654,602 657.8,603.4 662,605.8C666.2,608.2 670.3,611 675,615C679.7,619 685.5,624.8 690,630C694.5,635.2 698.7,641.6 702,646.4C705.3,651.2 706.2,652.7 710,659C713.8,665.3 720.8,677 725,684C729.2,691 731.7,695 735,701C738.3,707 740.8,711 745,720C749.2,729 756.2,746.5 760,755C763.8,763.5 765.5,766.2 768,771C770.5,775.8 772.7,779.8 775,783.5C777.3,787.2 779.5,790.3 782,793.5C784.5,796.7 787,799.6 790,802.5C793,805.4 796.7,808.5 800,811C803.3,813.5 806.3,815.3 810,817.5C813.7,819.7 817.8,822.1 822,824C826.2,825.9 830.3,827.8 835,829C839.7,830.2 845,830.7 850,831.3C855,831.9 856.7,832 865,832.5C873.3,833 884.2,833.7 900,834C915.8,834.3 935,834.5 960,834.5C985,834.5 1009.8,834.2 1050,834C1090.2,833.8 1175.8,833.6 1201,833.5" fill="none" stroke="#FF0000" stroke-width="10.8" stroke-linejoin="round"/><path d="M178.8,838C199,837.9 263.1,837.7 300,837.5C336.9,837.3 372.5,837.2 400,837C427.5,836.8 446.7,836.7 465,836.3C483.3,835.9 499.2,835.3 510,834.8C520.8,834.2 524.7,833.6 530,833C535.3,832.4 538.3,831.9 542,831.2C545.7,830.5 548.8,829.8 552,829C555.2,828.2 558,827.2 561,826.2C564,825.2 566.8,824.1 570,822.7C573.2,821.3 576.6,819.7 580.4,817.6C584.2,815.5 588.7,812.7 593,810C597.3,807.3 601.2,805.2 606,801.6C610.8,798 616.7,793 622,788.5C627.3,784 633.3,778.8 638,774.4C642.7,770 645.7,766.5 650,762C654.3,757.5 659.3,752.4 663.6,747.2C667.9,742 671.7,736.6 676,731C680.3,725.4 684.7,719.1 689.2,713.6C693.7,708.1 698.2,703.2 703,698C707.8,692.8 712.8,687.7 718,682.5C723.2,677.3 728.7,672.2 734,667C739.3,661.8 745.3,655.8 750,651.5C754.7,647.2 757.8,644.6 762,641C766.2,637.4 771.2,633.4 775,630C778.8,626.6 781.7,623.8 785,620.5C788.3,617.2 791.7,613.3 795,610C798.3,606.7 801.7,603.4 805,600.5C808.3,597.6 811.7,594.9 815,592.5C818.3,590.1 821.7,588 825,586C828.3,584 831.7,582.2 835,580.5C838.3,578.8 841.7,577.3 845,576C848.3,574.7 851.7,573.7 855,572.7C858.3,571.8 861.7,571 865,570.3C868.3,569.6 870.8,569.2 875,568.7C879.2,568.2 885,567.7 890,567.3C895,566.9 896.7,566.7 905,566.5C913.3,566.3 928.3,566.1 940,566C951.7,565.9 948.3,565.8 975,565.7C1001.7,565.6 1061.9,565.4 1100,565.3C1138.1,565.2 1186.5,565.2 1203.8,565.2" fill="none" stroke="#7F6000" stroke-width="11" stroke-linejoin="round"/>
<path d="M182.5,1162C187.9,1162.2 203.8,1162.8 215,1163.2C226.2,1163.6 238.3,1163.9 250,1164.2C261.7,1164.5 275,1164.9 285,1165C295,1165.1 302.5,1165.1 310,1165C317.5,1164.9 323.3,1164.8 330,1164.5C336.7,1164.2 343.3,1163.6 350,1163C356.7,1162.4 363.3,1161.7 370,1160.8C376.7,1159.9 383.3,1158.6 390,1157.5C396.7,1156.4 403.3,1155.2 410,1154C416.7,1152.8 423.8,1151.3 430,1150C436.2,1148.7 441.2,1147.5 447,1146C452.8,1144.5 459.2,1142.7 465,1141C470.8,1139.3 476.2,1137.8 482,1136C487.8,1134.2 494.5,1131.8 500,1130C505.5,1128.2 510,1126.8 515,1125C520,1123.2 525.8,1120.8 530,1119C534.2,1117.2 536.7,1115.9 540,1114C543.3,1112.1 546.3,1110.2 550,1107.5C553.7,1104.8 557.8,1101.2 562,1097.5C566.2,1093.8 570.8,1089.1 575,1085C579.2,1080.9 582.8,1077.2 587,1073C591.2,1068.8 595.8,1064.3 600,1060C604.2,1055.7 607.8,1051.6 612,1047C616.2,1042.4 620.8,1037.3 625,1032.5C629.2,1027.7 632.8,1022.9 637,1018C641.2,1013.1 645.8,1007.7 650,1003C654.2,998.3 657.8,994.2 662,990C666.2,985.8 670.3,981.8 675,978C679.7,974.2 684.7,970.8 690,967.5C695.3,964.2 701.2,961.4 707,958.5C712.8,955.6 719.2,952.8 725,950C730.8,947.2 736.2,944.7 742,942C747.8,939.3 754.5,936.3 760,934C765.5,931.7 770,929.9 775,928C780,926.1 785.8,924 790,922.8C794.2,921.5 796.7,921.1 800,920.5C803.3,919.9 805.8,919.5 810,919C814.2,918.5 820,918.1 825,917.8C830,917.5 827.5,917.4 840,917C852.5,916.6 877.5,916.1 900,915.5C922.5,914.9 941.7,914.2 975,913.5C1008.3,912.8 1062,911.8 1100,911C1138,910.2 1185.8,909.3 1203,909" fill="none" stroke="#548235" stroke-width="10.5" stroke-linejoin="round"/>
<g stroke="#000" stroke-width="4.2" stroke-dasharray="11 3.98" fill="none"><line x1="182" y1="167.5" x2="182" y2="1384.7" stroke-dashoffset="7.5"/><line x1="466.3" y1="167.6" x2="463" y2="1385" stroke-dashoffset="6.2"/><line x1="691.4" y1="170" x2="690.3" y2="1393" stroke-dashoffset="0"/><line x1="1203.8" y1="172.6" x2="1201.3" y2="1385" stroke-dashoffset="10.5"/></g>
<rect x="811.2" y="24.8" width="56.3" height="11.2" fill="#000"/><rect x="811.2" y="66.8" width="56.3" height="10.8" fill="#FF0000"/><rect x="811.2" y="110.3" width="56.3" height="10.7" fill="#7F6000"/><rect x="233.3" y="633.5" width="56.1" height="10.4" fill="#FF0000"/><rect x="233.3" y="677.1" width="56.1" height="10.3" fill="#7F6000"/>
<path d="M194,1279.4L194,1290.9Q194,1299.9 203,1299.9L320.4,1299.9 L320.4,1312 L329.6,1312 L329.6,1299.9L446.7,1299.9Q455.7,1299.9 455.7,1290.9L455.7,1279.4 L446.9,1279.4L446.9,1289.1Q446.9,1291.1 444.9,1291.1L204.8,1291.1Q202.8,1291.1 202.8,1289.1L202.8,1279.4Z" fill="#000"/><path d="M485.4,1279.4L485.4,1290.9Q485.4,1299.9 494.4,1299.9L578.2,1299.9 L578.2,1312 L587.4,1312 L587.4,1299.9L671.8,1299.9Q680.8,1299.9 680.8,1290.9L680.8,1279.4 L672,1279.4L672,1289.1Q672,1291.1 670,1291.1L496.2,1291.1Q494.2,1291.1 494.2,1289.1L494.2,1279.4Z" fill="#000"/><path d="M695.7,1279.4L695.7,1290.9Q695.7,1299.9 704.7,1299.9L939.4,1299.9 L939.4,1312 L948.6,1312 L948.6,1299.9L1182.8,1299.9Q1191.8,1299.9 1191.8,1290.9L1191.8,1279.4 L1183,1279.4L1183,1289.1Q1183,1291.1 1181,1291.1L706.5,1291.1Q704.5,1291.1 704.5,1289.1L704.5,1279.4Z" fill="#000"/>
<g fill="#000" opacity="0.999"><text transform="translate(36,229.7) rotate(-90)" font-size="33.4" text-anchor="middle" font-family="Liberation Sans, sans-serif" font-weight="bold">Amount of defensive</text><text transform="translate(75.8,229.8) rotate(-90)" font-size="33.4" text-anchor="middle" font-family="Liberation Sans, sans-serif" font-weight="bold">compounds in</text><text transform="translate(116.7,229.2) rotate(-90)" font-size="33.4" text-anchor="middle" font-family="Liberation Sans, sans-serif" font-weight="bold">individual’s body</text><text transform="translate(28,673.5) rotate(-90)" font-size="33.3" text-anchor="middle" font-family="Liberation Sans, sans-serif" font-weight="bold">% red instars 4</text><text transform="translate(68.8,672.6) rotate(-90)" font-size="33.3" text-anchor="middle" font-family="Liberation Sans, sans-serif" font-weight="bold">and adults</text><text transform="translate(108.7,667.7) rotate(-90)" font-size="33.3" text-anchor="middle" font-family="Liberation Sans, sans-serif" font-weight="bold">in population</text><text transform="translate(38.3,1066.4) rotate(-90)" font-size="33.3" text-anchor="middle" font-family="Liberation Sans, sans-serif" font-weight="bold">% of unpalatable</text><text transform="translate(78,1066.7) rotate(-90)" font-size="33.3" text-anchor="middle" font-family="Liberation Sans, sans-serif" font-weight="bold">individuals in</text><text transform="translate(119.6,1067.2) rotate(-90)" font-size="33.3" text-anchor="middle" font-family="Liberation Sans, sans-serif" font-weight="bold">population</text><text x="196.5" y="36.5" font-size="44" text-anchor="start" font-family="Liberation Sans, sans-serif" font-weight="bold" textLength="31.5" lengthAdjust="spacingAndGlyphs" >A</text><text x="210.5" y="575.2" font-size="42.5" text-anchor="start" font-family="Liberation Sans, sans-serif" font-weight="bold" textLength="26.5" lengthAdjust="spacingAndGlyphs" >B</text><text x="206.5" y="962.3" font-size="43.5" text-anchor="start" font-family="Liberation Sans, sans-serif" font-weight="bold" textLength="27.5" lengthAdjust="spacingAndGlyphs" >C</text><text x="1117.8" y="1166" font-size="34" text-anchor="start" font-family="Liberation Sans, sans-serif" font-weight="bold" textLength="70.5" lengthAdjust="spacingAndGlyphs" >time</text><text x="489.5" y="1468" font-size="36.2" text-anchor="start" font-family="Liberation Sans, sans-serif" font-weight="bold" textLength="263" lengthAdjust="spacingAndGlyphs" >Prey strategies</text><text x="279.2" y="92.6" font-size="30" text-anchor="start" font-family="Liberation Sans, sans-serif" font-weight="bold" font-style="italic" textLength="484.5" lengthAdjust="spacingAndGlyphs" >Hypothetical threshold of defenses</text><text x="293" y="133" font-size="30" text-anchor="start" font-family="Liberation Sans, sans-serif" font-weight="bold" font-style="italic" textLength="456" lengthAdjust="spacingAndGlyphs" >sufficient to cause unpalatability</text><text x="903.2" y="45.9" font-size="29.5" text-anchor="start" font-family="Liberation Sans, sans-serif" font-weight="bold" font-style="italic" textLength="186.5" lengthAdjust="spacingAndGlyphs" >Instars 1, 2, 3</text><text x="903.2" y="86" font-size="29.5" text-anchor="start" font-family="Liberation Sans, sans-serif" font-weight="bold" font-style="italic" textLength="119" lengthAdjust="spacingAndGlyphs" >Instars 4</text><text x="902.5" y="124" font-size="29.5" text-anchor="start" font-family="Liberation Sans, sans-serif" font-weight="bold" font-style="italic" textLength="90.5" lengthAdjust="spacingAndGlyphs" >Adults</text><text x="325" y="652.5" font-size="29.5" text-anchor="start" font-family="Liberation Sans, sans-serif" font-weight="bold" font-style="italic" textLength="119.5" lengthAdjust="spacingAndGlyphs" >Instars 4</text><text x="324.2" y="690.9" font-size="29.5" text-anchor="start" font-family="Liberation Sans, sans-serif" font-weight="bold" font-style="italic" textLength="90" lengthAdjust="spacingAndGlyphs" >Adults</text><text x="211" y="1254" font-size="35" text-anchor="start" font-family="Liberation Sans, sans-serif" font-weight="bold" font-style="italic" textLength="73" lengthAdjust="spacingAndGlyphs" >May</text><text x="361" y="1254" font-size="35" text-anchor="start" font-family="Liberation Sans, sans-serif" font-weight="bold" font-style="italic" textLength="76" lengthAdjust="spacingAndGlyphs" >June</text><text x="504" y="1254" font-size="35" text-anchor="start" font-family="Liberation Sans, sans-serif" font-weight="bold" font-style="italic" textLength="64" lengthAdjust="spacingAndGlyphs" >July</text><text x="645.5" y="1254" font-size="35" text-anchor="start" font-family="Liberation Sans, sans-serif" font-weight="bold" font-style="italic" textLength="115.5" lengthAdjust="spacingAndGlyphs" >August</text><text x="804" y="1254" font-size="35" text-anchor="start" font-family="Liberation Sans, sans-serif" font-weight="bold" font-style="italic" textLength="85.5" lengthAdjust="spacingAndGlyphs" >Sept.</text><text x="940.3" y="1254" font-size="35" text-anchor="start" font-family="Liberation Sans, sans-serif" font-weight="bold" font-style="italic" textLength="129.7" lengthAdjust="spacingAndGlyphs" >October</text><text x="1115" y="1254" font-size="35" text-anchor="start" font-family="Liberation Sans, sans-serif" font-weight="bold" font-style="italic" textLength="77.5" lengthAdjust="spacingAndGlyphs" >Nov.</text><text x="238.5" y="1362.4" font-size="29" text-anchor="start" font-family="Liberation Sans, sans-serif" font-weight="bold" font-style="italic" textLength="169.5" lengthAdjust="spacingAndGlyphs" >Camouflage</text><text x="483.4" y="1342.6" font-size="29" text-anchor="start" font-family="Liberation Sans, sans-serif" font-weight="bold" font-style="italic" textLength="199.5" lengthAdjust="spacingAndGlyphs" >Aposematism,</text><text x="493.8" y="1383" font-size="29" text-anchor="start" font-family="Liberation Sans, sans-serif" font-weight="bold" font-style="italic" textLength="179" lengthAdjust="spacingAndGlyphs" >Automimicry</text><text x="862" y="1362.4" font-size="29" text-anchor="start" font-family="Liberation Sans, sans-serif" font-weight="bold" font-style="italic" textLength="192.5" lengthAdjust="spacingAndGlyphs" >Aposematism</text></g>
</svg>
</body></html>
